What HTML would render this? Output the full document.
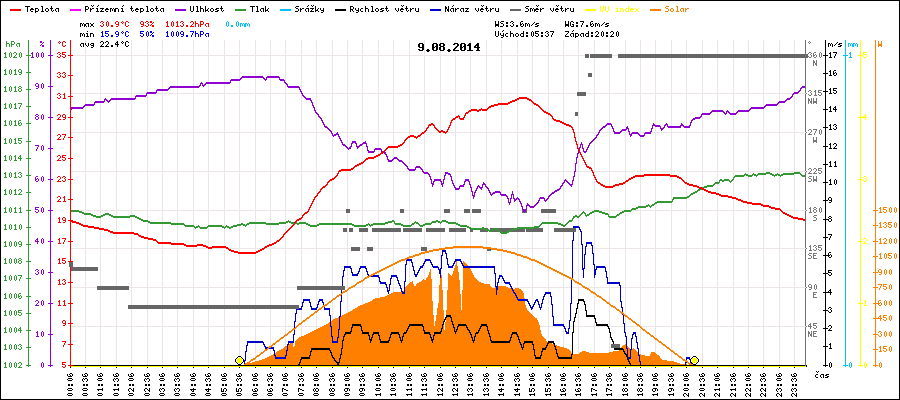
<!DOCTYPE html><html><head><meta charset="utf-8"><style>html,body{margin:0;padding:0;background:#fff;width:900px;height:400px;overflow:hidden}svg{display:block}text{font-family:"Liberation Mono",monospace;white-space:pre}.t{font-size:8px;fill-opacity:0;fill:transparent}</style></head><body>
<svg width="900" height="400" viewBox="0 0 900 400">
<rect x="0" y="0" width="900" height="400" fill="#fff"/>
<rect x="85" y="40" width="1" height="325" fill="#ebe5e5"/>
<rect x="100" y="40" width="1" height="325" fill="#ebe5e5"/>
<rect x="116" y="40" width="1" height="325" fill="#ebe5e5"/>
<rect x="131" y="40" width="1" height="325" fill="#ebe5e5"/>
<rect x="147" y="40" width="1" height="325" fill="#ebe5e5"/>
<rect x="162" y="40" width="1" height="325" fill="#ebe5e5"/>
<rect x="177" y="40" width="1" height="325" fill="#ebe5e5"/>
<rect x="193" y="40" width="1" height="325" fill="#ebe5e5"/>
<rect x="208" y="40" width="1" height="325" fill="#ebe5e5"/>
<rect x="224" y="40" width="1" height="325" fill="#ebe5e5"/>
<rect x="239" y="40" width="1" height="325" fill="#ebe5e5"/>
<rect x="255" y="40" width="1" height="325" fill="#ebe5e5"/>
<rect x="270" y="40" width="1" height="325" fill="#ebe5e5"/>
<rect x="285" y="40" width="1" height="325" fill="#ebe5e5"/>
<rect x="301" y="40" width="1" height="325" fill="#ebe5e5"/>
<rect x="316" y="40" width="1" height="325" fill="#ebe5e5"/>
<rect x="332" y="40" width="1" height="325" fill="#ebe5e5"/>
<rect x="347" y="40" width="1" height="325" fill="#ebe5e5"/>
<rect x="362" y="40" width="1" height="325" fill="#ebe5e5"/>
<rect x="378" y="40" width="1" height="325" fill="#ebe5e5"/>
<rect x="393" y="40" width="1" height="325" fill="#ebe5e5"/>
<rect x="409" y="40" width="1" height="325" fill="#ebe5e5"/>
<rect x="424" y="40" width="1" height="325" fill="#ebe5e5"/>
<rect x="440" y="40" width="1" height="325" fill="#ebe5e5"/>
<rect x="455" y="40" width="1" height="325" fill="#ebe5e5"/>
<rect x="470" y="40" width="1" height="325" fill="#ebe5e5"/>
<rect x="486" y="40" width="1" height="325" fill="#ebe5e5"/>
<rect x="501" y="40" width="1" height="325" fill="#ebe5e5"/>
<rect x="517" y="40" width="1" height="325" fill="#ebe5e5"/>
<rect x="532" y="40" width="1" height="325" fill="#ebe5e5"/>
<rect x="548" y="40" width="1" height="325" fill="#ebe5e5"/>
<rect x="563" y="40" width="1" height="325" fill="#ebe5e5"/>
<rect x="578" y="40" width="1" height="325" fill="#ebe5e5"/>
<rect x="594" y="40" width="1" height="325" fill="#ebe5e5"/>
<rect x="609" y="40" width="1" height="325" fill="#ebe5e5"/>
<rect x="625" y="40" width="1" height="325" fill="#ebe5e5"/>
<rect x="640" y="40" width="1" height="325" fill="#ebe5e5"/>
<rect x="655" y="40" width="1" height="325" fill="#ebe5e5"/>
<rect x="671" y="40" width="1" height="325" fill="#ebe5e5"/>
<rect x="686" y="40" width="1" height="325" fill="#ebe5e5"/>
<rect x="702" y="40" width="1" height="325" fill="#ebe5e5"/>
<rect x="717" y="40" width="1" height="325" fill="#ebe5e5"/>
<rect x="733" y="40" width="1" height="325" fill="#ebe5e5"/>
<rect x="748" y="40" width="1" height="325" fill="#ebe5e5"/>
<rect x="763" y="40" width="1" height="325" fill="#ebe5e5"/>
<rect x="779" y="40" width="1" height="325" fill="#ebe5e5"/>
<rect x="794" y="40" width="1" height="325" fill="#ebe5e5"/>
<rect x="71" y="55" width="734" height="1" fill="#ebe5e5"/>
<rect x="71" y="93" width="734" height="1" fill="#ebe5e5"/>
<rect x="71" y="132" width="734" height="1" fill="#ebe5e5"/>
<rect x="71" y="171" width="734" height="1" fill="#ebe5e5"/>
<rect x="71" y="210" width="734" height="1" fill="#ebe5e5"/>
<rect x="71" y="248" width="734" height="1" fill="#ebe5e5"/>
<rect x="71" y="287" width="734" height="1" fill="#ebe5e5"/>
<rect x="71" y="326" width="734" height="1" fill="#ebe5e5"/>
<polygon points="244.2,365.0 245.0,364.5 252.5,362.4 258.8,360.5 265.0,358.6 271.3,355.5 277.5,351.1 282.5,348.6 287.5,344.9 292.5,342.4 293.3,346.8 294.3,346.8 295.6,340.5 298.8,337.4 302.5,336.1 308.8,333.0 315.0,329.9 321.3,326.8 327.5,323.6 330.0,321.5 336.0,318.0 340.0,317.0 345.0,314.0 350.0,311.5 355.0,308.5 360.0,305.5 365.0,303.5 370.0,301.5 375.0,298.5 380.0,297.5 385.0,296.5 390.0,294.2 394.0,292.2 403.0,292.2 405.5,287.0 409.0,283.5 412.5,281.0 415.0,287.5 416.5,284.0 420.0,282.0 424.0,279.0 425.0,281.0 428.0,276.0 430.5,269.0 431.5,279.0 432.0,292.0 433.0,310.0 434.5,326.0 436.4,316.0 437.0,310.0 438.5,303.0 439.5,285.0 440.0,277.0 441.0,270.0 442.0,280.0 443.0,300.0 444.5,330.0 446.2,316.0 447.0,300.0 447.5,290.0 448.0,272.0 451.5,276.0 454.0,270.0 456.5,261.0 458.0,268.0 459.5,280.0 460.0,290.0 460.6,295.0 460.6,309.5 461.7,309.5 461.7,295.0 462.5,290.0 463.0,275.0 463.5,261.0 468.0,265.5 471.0,270.0 475.0,278.0 479.0,282.0 485.0,284.0 489.5,284.2 492.0,288.0 494.0,288.5 496.0,287.0 499.0,286.0 505.0,286.2 509.0,288.0 513.0,289.0 516.0,288.0 519.0,288.5 522.0,290.5 523.5,293.5 524.5,298.0 525.5,305.0 527.0,309.0 530.0,313.0 534.0,317.0 537.0,318.6 539.0,322.5 540.3,329.0 542.2,336.2 544.8,338.1 547.4,342.0 553.9,344.0 557.8,345.9 563.0,347.2 565.0,348.0 568.0,349.0 571.0,352.0 572.0,354.0 578.0,354.0 583.0,351.0 586.0,351.5 589.0,352.5 595.0,353.0 605.0,353.0 609.0,352.5 613.0,351.5 619.0,350.5 622.5,346.0 626.0,344.0 629.0,348.0 631.0,350.0 633.0,348.0 635.0,349.5 638.0,353.0 641.0,354.5 645.0,355.5 649.6,356.0 651.4,352.2 655.0,352.4 659.2,356.0 662.8,360.2 671.2,360.8 676.0,362.0 680.8,363.8 685.6,364.4 690.4,364.7 691.0,365.0 691.0,365.5 244.2,365.5" fill="#ff8000" shape-rendering="crispEdges"/>
<path d="M573 226h6v1h-6zM573 227h7v1h-7zM573 228h1v1h-1zM579 228h1v1h-1zM573 229h1v1h-1zM579 229h2v1h-2zM573 230h1v1h-1zM580 230h1v1h-1zM573 231h1v1h-1zM580 231h2v1h-2zM573 232h1v1h-1zM581 232h1v1h-1zM573 233h1v1h-1zM581 233h1v1h-1zM573 234h1v1h-1zM581 234h1v1h-1zM573 235h1v1h-1zM581 235h1v1h-1zM573 236h1v1h-1zM581 236h1v1h-1zM573 237h1v1h-1zM581 237h1v1h-1zM573 238h1v1h-1zM581 238h1v1h-1zM573 239h1v1h-1zM581 239h1v1h-1zM572 240h2v1h-2zM581 240h1v1h-1zM572 241h1v1h-1zM581 241h1v1h-1zM572 242h1v1h-1zM581 242h1v1h-1zM586 242h6v1h-6zM572 243h1v1h-1zM581 243h1v1h-1zM586 243h6v1h-6zM572 244h1v1h-1zM581 244h2v1h-2zM586 244h1v1h-1zM591 244h1v1h-1zM572 245h1v1h-1zM582 245h1v1h-1zM586 245h1v1h-1zM591 245h2v1h-2zM572 246h1v1h-1zM582 246h1v1h-1zM585 246h2v1h-2zM592 246h1v1h-1zM572 247h1v1h-1zM582 247h1v1h-1zM585 247h1v1h-1zM592 247h1v1h-1zM572 248h1v1h-1zM582 248h1v1h-1zM585 248h1v1h-1zM592 248h1v1h-1zM572 249h1v1h-1zM582 249h1v1h-1zM585 249h1v1h-1zM592 249h1v1h-1zM442 250h4v1h-4zM572 250h1v1h-1zM582 250h1v1h-1zM585 250h1v1h-1zM592 250h1v1h-1zM442 251h4v1h-4zM572 251h1v1h-1zM582 251h1v1h-1zM585 251h1v1h-1zM592 251h1v1h-1zM442 252h1v1h-1zM445 252h1v1h-1zM572 252h1v1h-1zM582 252h1v1h-1zM585 252h1v1h-1zM592 252h1v1h-1zM442 253h1v1h-1zM445 253h2v1h-2zM572 253h1v1h-1zM582 253h1v1h-1zM585 253h1v1h-1zM592 253h2v1h-2zM442 254h1v1h-1zM446 254h1v1h-1zM572 254h1v1h-1zM582 254h1v1h-1zM584 254h2v1h-2zM593 254h1v1h-1zM441 255h2v1h-2zM446 255h1v1h-1zM572 255h1v1h-1zM582 255h1v1h-1zM584 255h1v1h-1zM593 255h1v1h-1zM441 256h1v1h-1zM446 256h1v1h-1zM572 256h1v1h-1zM582 256h1v1h-1zM584 256h1v1h-1zM593 256h1v1h-1zM441 257h1v1h-1zM446 257h1v1h-1zM572 257h1v1h-1zM582 257h1v1h-1zM584 257h1v1h-1zM593 257h1v1h-1zM441 258h1v1h-1zM446 258h2v1h-2zM572 258h1v1h-1zM582 258h1v1h-1zM584 258h1v1h-1zM593 258h1v1h-1zM406 259h6v1h-6zM425 259h5v1h-5zM441 259h1v1h-1zM447 259h1v1h-1zM455 259h6v1h-6zM572 259h1v1h-1zM582 259h1v1h-1zM584 259h1v1h-1zM593 259h1v1h-1zM406 260h6v1h-6zM425 260h6v1h-6zM441 260h1v1h-1zM447 260h1v1h-1zM455 260h6v1h-6zM572 260h1v1h-1zM582 260h1v1h-1zM584 260h1v1h-1zM593 260h1v1h-1zM406 261h1v1h-1zM411 261h1v1h-1zM424 261h2v1h-2zM430 261h1v1h-1zM441 261h1v1h-1zM447 261h1v1h-1zM454 261h2v1h-2zM460 261h2v1h-2zM572 261h1v1h-1zM582 261h1v1h-1zM584 261h1v1h-1zM593 261h1v1h-1zM406 262h1v1h-1zM411 262h2v1h-2zM424 262h1v1h-1zM430 262h2v1h-2zM441 262h1v1h-1zM447 262h1v1h-1zM454 262h1v1h-1zM461 262h1v1h-1zM572 262h1v1h-1zM582 262h1v1h-1zM584 262h1v1h-1zM593 262h1v1h-1zM406 263h1v1h-1zM412 263h1v1h-1zM423 263h2v1h-2zM431 263h1v1h-1zM441 263h1v1h-1zM447 263h1v1h-1zM453 263h2v1h-2zM461 263h2v1h-2zM572 263h1v1h-1zM582 263h1v1h-1zM584 263h1v1h-1zM593 263h1v1h-1zM405 264h2v1h-2zM412 264h1v1h-1zM423 264h1v1h-1zM431 264h2v1h-2zM441 264h1v1h-1zM447 264h2v1h-2zM453 264h1v1h-1zM462 264h1v1h-1zM572 264h1v1h-1zM582 264h1v1h-1zM584 264h1v1h-1zM593 264h2v1h-2zM405 265h1v1h-1zM412 265h1v1h-1zM422 265h2v1h-2zM432 265h1v1h-1zM441 265h1v1h-1zM448 265h1v1h-1zM452 265h2v1h-2zM462 265h2v1h-2zM572 265h1v1h-1zM582 265h1v1h-1zM584 265h1v1h-1zM594 265h1v1h-1zM344 266h7v1h-7zM360 266h6v1h-6zM405 266h1v1h-1zM412 266h2v1h-2zM420 266h3v1h-3zM432 266h6v1h-6zM441 266h1v1h-1zM448 266h5v1h-5zM463 266h32v1h-32zM572 266h1v1h-1zM582 266h1v1h-1zM584 266h1v1h-1zM594 266h1v1h-1zM596 266h9v1h-9zM344 267h7v1h-7zM360 267h6v1h-6zM405 267h1v1h-1zM413 267h1v1h-1zM420 267h3v1h-3zM433 267h6v1h-6zM441 267h1v1h-1zM448 267h5v1h-5zM463 267h32v1h-32zM572 267h1v1h-1zM582 267h1v1h-1zM584 267h1v1h-1zM594 267h1v1h-1zM596 267h10v1h-10zM344 268h1v1h-1zM350 268h2v1h-2zM359 268h2v1h-2zM365 268h2v1h-2zM405 268h1v1h-1zM413 268h1v1h-1zM419 268h2v1h-2zM438 268h1v1h-1zM440 268h2v1h-2zM494 268h1v1h-1zM572 268h1v1h-1zM582 268h3v1h-3zM594 268h1v1h-1zM596 268h1v1h-1zM605 268h1v1h-1zM344 269h1v1h-1zM351 269h1v1h-1zM359 269h1v1h-1zM366 269h1v1h-1zM405 269h1v1h-1zM413 269h1v1h-1zM419 269h1v1h-1zM438 269h3v1h-3zM494 269h1v1h-1zM572 269h1v1h-1zM582 269h2v1h-2zM594 269h3v1h-3zM605 269h1v1h-1zM343 270h2v1h-2zM351 270h1v1h-1zM359 270h1v1h-1zM366 270h1v1h-1zM405 270h1v1h-1zM413 270h2v1h-2zM418 270h2v1h-2zM439 270h2v1h-2zM494 270h1v1h-1zM572 270h1v1h-1zM583 270h1v1h-1zM594 270h2v1h-2zM605 270h1v1h-1zM343 271h1v1h-1zM351 271h1v1h-1zM358 271h2v1h-2zM366 271h2v1h-2zM405 271h1v1h-1zM414 271h1v1h-1zM418 271h1v1h-1zM439 271h2v1h-2zM494 271h1v1h-1zM572 271h1v1h-1zM583 271h1v1h-1zM594 271h2v1h-2zM605 271h2v1h-2zM343 272h1v1h-1zM351 272h2v1h-2zM358 272h1v1h-1zM367 272h1v1h-1zM405 272h1v1h-1zM414 272h1v1h-1zM417 272h2v1h-2zM439 272h2v1h-2zM494 272h1v1h-1zM572 272h1v1h-1zM583 272h1v1h-1zM594 272h2v1h-2zM606 272h1v1h-1zM343 273h1v1h-1zM352 273h1v1h-1zM357 273h2v1h-2zM367 273h1v1h-1zM405 273h1v1h-1zM414 273h1v1h-1zM417 273h1v1h-1zM439 273h2v1h-2zM494 273h2v1h-2zM572 273h1v1h-1zM583 273h1v1h-1zM594 273h2v1h-2zM606 273h1v1h-1zM343 274h1v1h-1zM352 274h6v1h-6zM367 274h2v1h-2zM405 274h1v1h-1zM414 274h4v1h-4zM440 274h1v1h-1zM495 274h1v1h-1zM572 274h1v1h-1zM583 274h1v1h-1zM594 274h2v1h-2zM606 274h1v1h-1zM343 275h1v1h-1zM352 275h6v1h-6zM368 275h11v1h-11zM391 275h6v1h-6zM405 275h1v1h-1zM415 275h2v1h-2zM440 275h1v1h-1zM495 275h1v1h-1zM499 275h3v1h-3zM572 275h1v1h-1zM583 275h1v1h-1zM594 275h1v1h-1zM606 275h1v1h-1zM342 276h2v1h-2zM368 276h11v1h-11zM391 276h6v1h-6zM405 276h1v1h-1zM415 276h2v1h-2zM440 276h1v1h-1zM495 276h1v1h-1zM499 276h4v1h-4zM572 276h1v1h-1zM583 276h1v1h-1zM594 276h1v1h-1zM606 276h1v1h-1zM342 277h1v1h-1zM378 277h2v1h-2zM391 277h1v1h-1zM396 277h2v1h-2zM405 277h1v1h-1zM440 277h1v1h-1zM495 277h1v1h-1zM499 277h1v1h-1zM502 277h1v1h-1zM572 277h1v1h-1zM583 277h1v1h-1zM594 277h1v1h-1zM606 277h2v1h-2zM342 278h1v1h-1zM379 278h1v1h-1zM390 278h2v1h-2zM397 278h1v1h-1zM405 278h1v1h-1zM495 278h1v1h-1zM498 278h2v1h-2zM502 278h2v1h-2zM572 278h1v1h-1zM607 278h1v1h-1zM342 279h1v1h-1zM379 279h1v1h-1zM390 279h1v1h-1zM397 279h1v1h-1zM405 279h1v1h-1zM495 279h1v1h-1zM498 279h1v1h-1zM503 279h1v1h-1zM571 279h2v1h-2zM607 279h1v1h-1zM342 280h1v1h-1zM379 280h1v1h-1zM390 280h1v1h-1zM397 280h2v1h-2zM405 280h1v1h-1zM495 280h1v1h-1zM498 280h1v1h-1zM503 280h2v1h-2zM571 280h1v1h-1zM607 280h1v1h-1zM342 281h1v1h-1zM379 281h2v1h-2zM390 281h1v1h-1zM398 281h1v1h-1zM404 281h2v1h-2zM495 281h1v1h-1zM498 281h1v1h-1zM504 281h1v1h-1zM571 281h1v1h-1zM607 281h1v1h-1zM342 282h1v1h-1zM380 282h6v1h-6zM390 282h1v1h-1zM398 282h1v1h-1zM404 282h1v1h-1zM495 282h1v1h-1zM497 282h2v1h-2zM504 282h6v1h-6zM571 282h1v1h-1zM607 282h13v1h-13zM342 283h1v1h-1zM380 283h6v1h-6zM390 283h1v1h-1zM398 283h2v1h-2zM404 283h1v1h-1zM495 283h1v1h-1zM497 283h1v1h-1zM505 283h5v1h-5zM571 283h1v1h-1zM607 283h13v1h-13zM342 284h1v1h-1zM385 284h2v1h-2zM389 284h2v1h-2zM399 284h1v1h-1zM404 284h1v1h-1zM495 284h1v1h-1zM497 284h1v1h-1zM509 284h2v1h-2zM571 284h1v1h-1zM619 284h1v1h-1zM342 285h1v1h-1zM386 285h1v1h-1zM389 285h1v1h-1zM399 285h2v1h-2zM404 285h1v1h-1zM495 285h1v1h-1zM497 285h1v1h-1zM510 285h1v1h-1zM571 285h1v1h-1zM619 285h2v1h-2zM342 286h1v1h-1zM386 286h1v1h-1zM389 286h1v1h-1zM400 286h1v1h-1zM404 286h1v1h-1zM495 286h3v1h-3zM510 286h2v1h-2zM571 286h1v1h-1zM620 286h1v1h-1zM341 287h2v1h-2zM386 287h2v1h-2zM389 287h1v1h-1zM400 287h1v1h-1zM404 287h1v1h-1zM496 287h2v1h-2zM511 287h1v1h-1zM571 287h1v1h-1zM620 287h1v1h-1zM341 288h1v1h-1zM387 288h1v1h-1zM389 288h1v1h-1zM400 288h2v1h-2zM404 288h1v1h-1zM496 288h2v1h-2zM511 288h2v1h-2zM571 288h1v1h-1zM620 288h1v1h-1zM341 289h1v1h-1zM387 289h1v1h-1zM389 289h1v1h-1zM401 289h1v1h-1zM404 289h1v1h-1zM496 289h2v1h-2zM512 289h1v1h-1zM571 289h1v1h-1zM620 289h1v1h-1zM341 290h1v1h-1zM387 290h3v1h-3zM401 290h1v1h-1zM404 290h1v1h-1zM496 290h1v1h-1zM512 290h2v1h-2zM571 290h1v1h-1zM620 290h1v1h-1zM341 291h1v1h-1zM387 291h2v1h-2zM401 291h2v1h-2zM404 291h1v1h-1zM496 291h1v1h-1zM513 291h1v1h-1zM571 291h1v1h-1zM620 291h1v1h-1zM341 292h1v1h-1zM388 292h1v1h-1zM402 292h3v1h-3zM496 292h1v1h-1zM513 292h2v1h-2zM545 292h6v1h-6zM571 292h1v1h-1zM620 292h1v1h-1zM341 293h1v1h-1zM388 293h1v1h-1zM402 293h3v1h-3zM496 293h1v1h-1zM514 293h2v1h-2zM545 293h6v1h-6zM571 293h1v1h-1zM620 293h1v1h-1zM341 294h1v1h-1zM496 294h1v1h-1zM515 294h1v1h-1zM544 294h2v1h-2zM550 294h1v1h-1zM571 294h1v1h-1zM620 294h1v1h-1zM341 295h1v1h-1zM515 295h2v1h-2zM544 295h1v1h-1zM550 295h1v1h-1zM571 295h1v1h-1zM620 295h1v1h-1zM341 296h1v1h-1zM516 296h1v1h-1zM543 296h2v1h-2zM550 296h2v1h-2zM571 296h1v1h-1zM620 296h1v1h-1zM341 297h1v1h-1zM516 297h2v1h-2zM543 297h1v1h-1zM551 297h1v1h-1zM571 297h1v1h-1zM620 297h1v1h-1zM341 298h1v1h-1zM517 298h1v1h-1zM543 298h1v1h-1zM551 298h1v1h-1zM571 298h1v1h-1zM620 298h1v1h-1zM303 299h7v1h-7zM319 299h4v1h-4zM341 299h1v1h-1zM517 299h11v1h-11zM536 299h2v1h-2zM542 299h2v1h-2zM551 299h1v1h-1zM571 299h1v1h-1zM620 299h1v1h-1zM303 300h7v1h-7zM319 300h4v1h-4zM341 300h1v1h-1zM518 300h10v1h-10zM535 300h3v1h-3zM542 300h1v1h-1zM551 300h1v1h-1zM571 300h1v1h-1zM620 300h1v1h-1zM303 301h1v1h-1zM309 301h1v1h-1zM318 301h2v1h-2zM322 301h1v1h-1zM340 301h2v1h-2zM527 301h2v1h-2zM535 301h1v1h-1zM537 301h2v1h-2zM542 301h1v1h-1zM551 301h1v1h-1zM571 301h1v1h-1zM620 301h2v1h-2zM302 302h2v1h-2zM309 302h2v1h-2zM318 302h1v1h-1zM322 302h2v1h-2zM340 302h1v1h-1zM528 302h1v1h-1zM534 302h2v1h-2zM538 302h1v1h-1zM542 302h1v1h-1zM551 302h1v1h-1zM571 302h1v1h-1zM621 302h1v1h-1zM302 303h1v1h-1zM310 303h1v1h-1zM318 303h1v1h-1zM323 303h1v1h-1zM340 303h1v1h-1zM528 303h2v1h-2zM534 303h1v1h-1zM538 303h1v1h-1zM541 303h2v1h-2zM551 303h1v1h-1zM570 303h2v1h-2zM621 303h1v1h-1zM302 304h1v1h-1zM310 304h1v1h-1zM317 304h2v1h-2zM323 304h1v1h-1zM340 304h1v1h-1zM529 304h1v1h-1zM533 304h2v1h-2zM538 304h2v1h-2zM541 304h1v1h-1zM551 304h2v1h-2zM570 304h1v1h-1zM621 304h1v1h-1zM302 305h1v1h-1zM310 305h1v1h-1zM317 305h1v1h-1zM323 305h1v1h-1zM340 305h1v1h-1zM529 305h2v1h-2zM533 305h1v1h-1zM539 305h1v1h-1zM541 305h1v1h-1zM552 305h1v1h-1zM570 305h1v1h-1zM621 305h1v1h-1zM301 306h2v1h-2zM310 306h2v1h-2zM317 306h1v1h-1zM323 306h2v1h-2zM340 306h1v1h-1zM530 306h1v1h-1zM532 306h2v1h-2zM539 306h1v1h-1zM541 306h1v1h-1zM552 306h1v1h-1zM570 306h1v1h-1zM621 306h1v1h-1zM301 307h1v1h-1zM311 307h1v1h-1zM316 307h2v1h-2zM324 307h1v1h-1zM340 307h1v1h-1zM530 307h3v1h-3zM539 307h3v1h-3zM552 307h1v1h-1zM570 307h1v1h-1zM621 307h2v1h-2zM296 308h6v1h-6zM311 308h6v1h-6zM324 308h6v1h-6zM340 308h1v1h-1zM531 308h2v1h-2zM540 308h1v1h-1zM552 308h1v1h-1zM570 308h1v1h-1zM622 308h1v1h-1zM296 309h6v1h-6zM311 309h6v1h-6zM324 309h6v1h-6zM340 309h1v1h-1zM531 309h1v1h-1zM540 309h1v1h-1zM552 309h1v1h-1zM570 309h1v1h-1zM622 309h1v1h-1zM296 310h1v1h-1zM329 310h1v1h-1zM340 310h1v1h-1zM552 310h1v1h-1zM570 310h1v1h-1zM622 310h1v1h-1zM296 311h1v1h-1zM329 311h1v1h-1zM340 311h1v1h-1zM552 311h1v1h-1zM570 311h1v1h-1zM622 311h1v1h-1zM296 312h1v1h-1zM329 312h1v1h-1zM340 312h1v1h-1zM552 312h1v1h-1zM570 312h1v1h-1zM622 312h1v1h-1zM295 313h2v1h-2zM329 313h1v1h-1zM340 313h1v1h-1zM552 313h1v1h-1zM570 313h1v1h-1zM622 313h1v1h-1zM295 314h1v1h-1zM329 314h1v1h-1zM340 314h1v1h-1zM552 314h1v1h-1zM570 314h1v1h-1zM622 314h2v1h-2zM295 315h1v1h-1zM329 315h2v1h-2zM340 315h1v1h-1zM552 315h1v1h-1zM570 315h1v1h-1zM623 315h1v1h-1zM295 316h1v1h-1zM330 316h1v1h-1zM339 316h2v1h-2zM552 316h2v1h-2zM570 316h1v1h-1zM623 316h1v1h-1zM295 317h1v1h-1zM330 317h1v1h-1zM339 317h1v1h-1zM553 317h1v1h-1zM570 317h1v1h-1zM623 317h1v1h-1zM295 318h1v1h-1zM330 318h1v1h-1zM339 318h1v1h-1zM553 318h1v1h-1zM570 318h1v1h-1zM623 318h1v1h-1zM295 319h1v1h-1zM330 319h1v1h-1zM339 319h1v1h-1zM553 319h1v1h-1zM570 319h1v1h-1zM623 319h1v1h-1zM295 320h1v1h-1zM330 320h1v1h-1zM339 320h1v1h-1zM553 320h1v1h-1zM569 320h2v1h-2zM623 320h1v1h-1zM294 321h2v1h-2zM330 321h1v1h-1zM339 321h1v1h-1zM553 321h1v1h-1zM569 321h1v1h-1zM623 321h1v1h-1zM294 322h1v1h-1zM330 322h1v1h-1zM339 322h1v1h-1zM553 322h1v1h-1zM569 322h1v1h-1zM623 322h1v1h-1zM294 323h1v1h-1zM330 323h1v1h-1zM339 323h1v1h-1zM553 323h1v1h-1zM569 323h1v1h-1zM623 323h2v1h-2zM294 324h1v1h-1zM330 324h1v1h-1zM339 324h1v1h-1zM553 324h11v1h-11zM569 324h1v1h-1zM624 324h1v1h-1zM294 325h1v1h-1zM330 325h1v1h-1zM339 325h1v1h-1zM553 325h11v1h-11zM569 325h1v1h-1zM624 325h1v1h-1zM294 326h1v1h-1zM330 326h2v1h-2zM339 326h1v1h-1zM563 326h2v1h-2zM569 326h1v1h-1zM624 326h1v1h-1zM294 327h1v1h-1zM331 327h1v1h-1zM339 327h1v1h-1zM564 327h1v1h-1zM569 327h1v1h-1zM624 327h1v1h-1zM294 328h1v1h-1zM331 328h1v1h-1zM339 328h1v1h-1zM564 328h2v1h-2zM568 328h2v1h-2zM624 328h1v1h-1zM294 329h1v1h-1zM331 329h1v1h-1zM338 329h2v1h-2zM565 329h1v1h-1zM568 329h1v1h-1zM624 329h1v1h-1zM294 330h1v1h-1zM331 330h1v1h-1zM338 330h1v1h-1zM565 330h1v1h-1zM568 330h1v1h-1zM624 330h1v1h-1zM294 331h1v1h-1zM331 331h1v1h-1zM338 331h1v1h-1zM565 331h2v1h-2zM568 331h1v1h-1zM624 331h1v1h-1zM294 332h1v1h-1zM331 332h1v1h-1zM338 332h1v1h-1zM566 332h3v1h-3zM624 332h2v1h-2zM633 332h3v1h-3zM294 333h1v1h-1zM331 333h1v1h-1zM338 333h1v1h-1zM566 333h3v1h-3zM625 333h1v1h-1zM633 333h3v1h-3zM293 334h2v1h-2zM331 334h1v1h-1zM338 334h1v1h-1zM625 334h1v1h-1zM632 334h2v1h-2zM635 334h1v1h-1zM293 335h1v1h-1zM331 335h1v1h-1zM338 335h1v1h-1zM625 335h1v1h-1zM632 335h1v1h-1zM635 335h1v1h-1zM293 336h1v1h-1zM331 336h2v1h-2zM338 336h1v1h-1zM625 336h2v1h-2zM632 336h1v1h-1zM635 336h2v1h-2zM293 337h1v1h-1zM332 337h1v1h-1zM337 337h2v1h-2zM626 337h1v1h-1zM632 337h1v1h-1zM636 337h1v1h-1zM293 338h1v1h-1zM332 338h1v1h-1zM337 338h1v1h-1zM626 338h1v1h-1zM631 338h2v1h-2zM636 338h1v1h-1zM293 339h1v1h-1zM332 339h1v1h-1zM337 339h1v1h-1zM626 339h1v1h-1zM631 339h1v1h-1zM636 339h1v1h-1zM293 340h1v1h-1zM332 340h1v1h-1zM337 340h1v1h-1zM626 340h1v1h-1zM631 340h1v1h-1zM636 340h1v1h-1zM247 341h16v1h-16zM288 341h6v1h-6zM332 341h6v1h-6zM626 341h1v1h-1zM631 341h1v1h-1zM636 341h1v1h-1zM247 342h17v1h-17zM288 342h6v1h-6zM332 342h6v1h-6zM626 342h1v1h-1zM631 342h1v1h-1zM636 342h2v1h-2zM247 343h1v1h-1zM263 343h1v1h-1zM288 343h1v1h-1zM626 343h1v1h-1zM631 343h1v1h-1zM637 343h1v1h-1zM247 344h1v1h-1zM263 344h2v1h-2zM287 344h2v1h-2zM626 344h1v1h-1zM631 344h1v1h-1zM637 344h1v1h-1zM246 345h2v1h-2zM264 345h1v1h-1zM287 345h1v1h-1zM626 345h1v1h-1zM631 345h1v1h-1zM637 345h1v1h-1zM246 346h1v1h-1zM264 346h2v1h-2zM287 346h1v1h-1zM626 346h1v1h-1zM631 346h1v1h-1zM637 346h1v1h-1zM246 347h1v1h-1zM265 347h9v1h-9zM287 347h1v1h-1zM626 347h1v1h-1zM631 347h1v1h-1zM637 347h1v1h-1zM246 348h1v1h-1zM265 348h9v1h-9zM287 348h1v1h-1zM626 348h2v1h-2zM631 348h1v1h-1zM637 348h2v1h-2zM246 349h1v1h-1zM273 349h1v1h-1zM287 349h1v1h-1zM627 349h1v1h-1zM630 349h2v1h-2zM638 349h1v1h-1zM246 350h1v1h-1zM273 350h2v1h-2zM286 350h2v1h-2zM627 350h1v1h-1zM630 350h1v1h-1zM638 350h1v1h-1zM245 351h2v1h-2zM274 351h1v1h-1zM286 351h1v1h-1zM627 351h1v1h-1zM630 351h1v1h-1zM638 351h1v1h-1zM245 352h1v1h-1zM274 352h1v1h-1zM286 352h1v1h-1zM627 352h1v1h-1zM630 352h1v1h-1zM638 352h1v1h-1zM245 353h1v1h-1zM274 353h1v1h-1zM286 353h1v1h-1zM627 353h1v1h-1zM630 353h1v1h-1zM638 353h1v1h-1zM245 354h1v1h-1zM274 354h1v1h-1zM286 354h1v1h-1zM627 354h1v1h-1zM630 354h1v1h-1zM638 354h1v1h-1zM245 355h1v1h-1zM274 355h2v1h-2zM285 355h2v1h-2zM627 355h1v1h-1zM630 355h1v1h-1zM638 355h2v1h-2zM245 356h1v1h-1zM275 356h1v1h-1zM285 356h1v1h-1zM627 356h1v1h-1zM630 356h1v1h-1zM639 356h1v1h-1zM245 357h1v1h-1zM275 357h11v1h-11zM627 357h4v1h-4zM639 357h1v1h-1zM686 357h4v1h-4zM245 358h1v1h-1zM275 358h11v1h-11zM627 358h4v1h-4zM639 358h1v1h-1zM686 358h4v1h-4zM245 359h1v1h-1zM639 359h1v1h-1zM686 359h1v1h-1zM689 359h2v1h-2zM244 360h2v1h-2zM639 360h1v1h-1zM686 360h1v1h-1zM690 360h1v1h-1zM244 361h1v1h-1zM639 361h2v1h-2zM686 361h1v1h-1zM690 361h1v1h-1zM244 362h1v1h-1zM640 362h1v1h-1zM685 362h2v1h-2zM690 362h1v1h-1zM244 363h1v1h-1zM640 363h1v1h-1zM685 363h1v1h-1zM690 363h2v1h-2zM244 364h1v1h-1zM640 364h1v1h-1zM685 364h1v1h-1zM691 364h1v1h-1zM70 365h175v1h-175zM640 365h46v1h-46zM691 365h116v1h-116zM70 366h175v1h-175zM641 366h45v1h-45zM691 366h116v1h-116z" fill="#0000cc" />
<path d="M578 299h6v1h-6zM578 300h6v1h-6zM578 301h1v1h-1zM583 301h2v1h-2zM578 302h1v1h-1zM584 302h1v1h-1zM577 303h2v1h-2zM584 303h1v1h-1zM577 304h1v1h-1zM584 304h2v1h-2zM577 305h1v1h-1zM585 305h1v1h-1zM577 306h1v1h-1zM585 306h1v1h-1zM577 307h1v1h-1zM585 307h1v1h-1zM576 308h2v1h-2zM585 308h1v1h-1zM576 309h1v1h-1zM585 309h1v1h-1zM576 310h1v1h-1zM585 310h2v1h-2zM576 311h1v1h-1zM586 311h1v1h-1zM576 312h1v1h-1zM586 312h1v1h-1zM575 313h2v1h-2zM586 313h1v1h-1zM575 314h1v1h-1zM586 314h1v1h-1zM446 315h5v1h-5zM575 315h1v1h-1zM586 315h9v1h-9zM446 316h5v1h-5zM575 316h1v1h-1zM586 316h9v1h-9zM445 317h2v1h-2zM450 317h2v1h-2zM574 317h2v1h-2zM594 317h1v1h-1zM445 318h1v1h-1zM451 318h1v1h-1zM574 318h1v1h-1zM594 318h2v1h-2zM444 319h2v1h-2zM451 319h1v1h-1zM574 319h1v1h-1zM595 319h1v1h-1zM444 320h1v1h-1zM451 320h1v1h-1zM574 320h1v1h-1zM595 320h1v1h-1zM443 321h2v1h-2zM451 321h2v1h-2zM573 321h2v1h-2zM595 321h1v1h-1zM443 322h1v1h-1zM452 322h1v1h-1zM573 322h1v1h-1zM595 322h2v1h-2zM443 323h1v1h-1zM452 323h1v1h-1zM573 323h1v1h-1zM596 323h1v1h-1zM352 324h9v1h-9zM409 324h14v1h-14zM442 324h2v1h-2zM452 324h2v1h-2zM458 324h8v1h-8zM481 324h6v1h-6zM573 324h1v1h-1zM596 324h12v1h-12zM352 325h9v1h-9zM409 325h14v1h-14zM442 325h1v1h-1zM453 325h1v1h-1zM458 325h9v1h-9zM481 325h6v1h-6zM573 325h1v1h-1zM596 325h12v1h-12zM352 326h1v1h-1zM360 326h2v1h-2zM408 326h2v1h-2zM422 326h2v1h-2zM442 326h1v1h-1zM453 326h1v1h-1zM457 326h2v1h-2zM466 326h1v1h-1zM480 326h2v1h-2zM486 326h2v1h-2zM573 326h1v1h-1zM607 326h2v1h-2zM351 327h2v1h-2zM361 327h1v1h-1zM408 327h1v1h-1zM423 327h1v1h-1zM442 327h1v1h-1zM453 327h2v1h-2zM457 327h1v1h-1zM466 327h2v1h-2zM480 327h1v1h-1zM487 327h1v1h-1zM573 327h1v1h-1zM608 327h1v1h-1zM351 328h1v1h-1zM361 328h1v1h-1zM407 328h2v1h-2zM423 328h1v1h-1zM441 328h2v1h-2zM454 328h1v1h-1zM457 328h1v1h-1zM467 328h1v1h-1zM479 328h2v1h-2zM487 328h1v1h-1zM573 328h1v1h-1zM608 328h2v1h-2zM351 329h1v1h-1zM361 329h1v1h-1zM407 329h1v1h-1zM423 329h1v1h-1zM441 329h1v1h-1zM454 329h1v1h-1zM456 329h2v1h-2zM467 329h2v1h-2zM479 329h1v1h-1zM487 329h1v1h-1zM573 329h1v1h-1zM609 329h1v1h-1zM351 330h1v1h-1zM361 330h2v1h-2zM406 330h2v1h-2zM423 330h2v1h-2zM441 330h1v1h-1zM454 330h1v1h-1zM456 330h1v1h-1zM468 330h2v1h-2zM478 330h2v1h-2zM487 330h2v1h-2zM573 330h1v1h-1zM609 330h1v1h-1zM350 331h2v1h-2zM362 331h1v1h-1zM406 331h1v1h-1zM424 331h1v1h-1zM440 331h2v1h-2zM454 331h3v1h-3zM469 331h1v1h-1zM478 331h1v1h-1zM488 331h1v1h-1zM573 331h1v1h-1zM609 331h1v1h-1zM345 332h6v1h-6zM362 332h7v1h-7zM373 332h6v1h-6zM391 332h8v1h-8zM404 332h3v1h-3zM424 332h6v1h-6zM434 332h7v1h-7zM455 332h1v1h-1zM469 332h2v1h-2zM476 332h3v1h-3zM488 332h1v1h-1zM512 332h5v1h-5zM572 332h2v1h-2zM609 332h2v1h-2zM345 333h6v1h-6zM362 333h7v1h-7zM373 333h6v1h-6zM391 333h8v1h-8zM403 333h3v1h-3zM424 333h6v1h-6zM434 333h7v1h-7zM455 333h1v1h-1zM470 333h1v1h-1zM475 333h3v1h-3zM488 333h2v1h-2zM512 333h5v1h-5zM572 333h1v1h-1zM610 333h1v1h-1zM344 334h2v1h-2zM368 334h1v1h-1zM372 334h2v1h-2zM378 334h1v1h-1zM390 334h2v1h-2zM398 334h2v1h-2zM403 334h1v1h-1zM429 334h2v1h-2zM434 334h1v1h-1zM470 334h2v1h-2zM475 334h1v1h-1zM489 334h1v1h-1zM511 334h2v1h-2zM516 334h2v1h-2zM572 334h1v1h-1zM610 334h1v1h-1zM344 335h1v1h-1zM368 335h2v1h-2zM372 335h1v1h-1zM378 335h2v1h-2zM390 335h1v1h-1zM399 335h1v1h-1zM403 335h1v1h-1zM430 335h1v1h-1zM433 335h2v1h-2zM471 335h1v1h-1zM475 335h1v1h-1zM489 335h1v1h-1zM511 335h1v1h-1zM517 335h1v1h-1zM572 335h1v1h-1zM610 335h1v1h-1zM343 336h2v1h-2zM369 336h1v1h-1zM372 336h1v1h-1zM379 336h1v1h-1zM390 336h1v1h-1zM399 336h1v1h-1zM402 336h2v1h-2zM430 336h1v1h-1zM433 336h1v1h-1zM471 336h1v1h-1zM474 336h2v1h-2zM489 336h2v1h-2zM511 336h1v1h-1zM517 336h2v1h-2zM572 336h1v1h-1zM610 336h1v1h-1zM343 337h1v1h-1zM369 337h1v1h-1zM371 337h2v1h-2zM379 337h1v1h-1zM389 337h2v1h-2zM399 337h2v1h-2zM402 337h1v1h-1zM430 337h2v1h-2zM433 337h1v1h-1zM471 337h2v1h-2zM474 337h1v1h-1zM490 337h1v1h-1zM510 337h2v1h-2zM518 337h1v1h-1zM572 337h1v1h-1zM610 337h2v1h-2zM343 338h1v1h-1zM369 338h1v1h-1zM371 338h1v1h-1zM379 338h1v1h-1zM389 338h1v1h-1zM400 338h1v1h-1zM402 338h1v1h-1zM431 338h1v1h-1zM433 338h1v1h-1zM472 338h1v1h-1zM474 338h1v1h-1zM490 338h1v1h-1zM510 338h1v1h-1zM518 338h1v1h-1zM572 338h1v1h-1zM611 338h1v1h-1zM343 339h1v1h-1zM369 339h3v1h-3zM379 339h2v1h-2zM389 339h1v1h-1zM400 339h1v1h-1zM402 339h1v1h-1zM431 339h3v1h-3zM472 339h1v1h-1zM474 339h1v1h-1zM490 339h1v1h-1zM510 339h1v1h-1zM518 339h2v1h-2zM572 339h1v1h-1zM611 339h2v1h-2zM342 340h2v1h-2zM370 340h2v1h-2zM380 340h1v1h-1zM388 340h2v1h-2zM400 340h3v1h-3zM431 340h2v1h-2zM472 340h3v1h-3zM490 340h2v1h-2zM509 340h2v1h-2zM519 340h1v1h-1zM572 340h1v1h-1zM612 340h1v1h-1zM342 341h1v1h-1zM370 341h1v1h-1zM380 341h9v1h-9zM401 341h1v1h-1zM432 341h1v1h-1zM473 341h1v1h-1zM491 341h19v1h-19zM519 341h1v1h-1zM524 341h9v1h-9zM548 341h6v1h-6zM572 341h1v1h-1zM612 341h2v1h-2zM342 342h1v1h-1zM370 342h1v1h-1zM380 342h9v1h-9zM401 342h1v1h-1zM432 342h1v1h-1zM473 342h1v1h-1zM491 342h19v1h-19zM519 342h2v1h-2zM524 342h9v1h-9zM548 342h6v1h-6zM572 342h1v1h-1zM613 342h1v1h-1zM342 343h1v1h-1zM520 343h1v1h-1zM523 343h2v1h-2zM532 343h1v1h-1zM547 343h2v1h-2zM553 343h2v1h-2zM572 343h1v1h-1zM613 343h1v1h-1zM342 344h1v1h-1zM520 344h2v1h-2zM523 344h1v1h-1zM532 344h2v1h-2zM547 344h1v1h-1zM554 344h1v1h-1zM572 344h1v1h-1zM613 344h1v1h-1zM342 345h1v1h-1zM521 345h1v1h-1zM523 345h1v1h-1zM533 345h1v1h-1zM546 345h2v1h-2zM554 345h1v1h-1zM572 345h1v1h-1zM613 345h2v1h-2zM342 346h1v1h-1zM521 346h1v1h-1zM523 346h1v1h-1zM533 346h1v1h-1zM546 346h1v1h-1zM554 346h2v1h-2zM572 346h1v1h-1zM614 346h1v1h-1zM342 347h1v1h-1zM521 347h3v1h-3zM533 347h1v1h-1zM545 347h2v1h-2zM555 347h1v1h-1zM572 347h1v1h-1zM614 347h1v1h-1zM311 348h19v1h-19zM341 348h2v1h-2zM522 348h1v1h-1zM533 348h1v1h-1zM542 348h4v1h-4zM555 348h1v1h-1zM572 348h1v1h-1zM614 348h9v1h-9zM311 349h19v1h-19zM341 349h1v1h-1zM522 349h1v1h-1zM533 349h2v1h-2zM542 349h4v1h-4zM555 349h2v1h-2zM572 349h1v1h-1zM614 349h10v1h-10zM311 350h1v1h-1zM329 350h2v1h-2zM341 350h1v1h-1zM534 350h1v1h-1zM542 350h1v1h-1zM556 350h1v1h-1zM572 350h1v1h-1zM623 350h1v1h-1zM310 351h2v1h-2zM330 351h1v1h-1zM341 351h1v1h-1zM534 351h1v1h-1zM541 351h2v1h-2zM556 351h1v1h-1zM572 351h1v1h-1zM623 351h2v1h-2zM310 352h1v1h-1zM330 352h2v1h-2zM341 352h1v1h-1zM534 352h1v1h-1zM541 352h1v1h-1zM556 352h1v1h-1zM572 352h1v1h-1zM624 352h1v1h-1zM310 353h1v1h-1zM331 353h1v1h-1zM341 353h1v1h-1zM534 353h1v1h-1zM541 353h1v1h-1zM556 353h2v1h-2zM572 353h1v1h-1zM624 353h2v1h-2zM310 354h1v1h-1zM331 354h1v1h-1zM340 354h2v1h-2zM534 354h1v1h-1zM541 354h1v1h-1zM557 354h1v1h-1zM571 354h2v1h-2zM625 354h2v1h-2zM309 355h2v1h-2zM331 355h2v1h-2zM340 355h1v1h-1zM534 355h2v1h-2zM540 355h2v1h-2zM557 355h1v1h-1zM571 355h1v1h-1zM626 355h1v1h-1zM309 356h1v1h-1zM332 356h1v1h-1zM340 356h1v1h-1zM535 356h1v1h-1zM540 356h1v1h-1zM557 356h2v1h-2zM571 356h1v1h-1zM626 356h2v1h-2zM301 357h9v1h-9zM332 357h2v1h-2zM340 357h1v1h-1zM535 357h6v1h-6zM558 357h14v1h-14zM627 357h1v1h-1zM301 358h9v1h-9zM333 358h2v1h-2zM339 358h2v1h-2zM535 358h6v1h-6zM558 358h14v1h-14zM627 358h1v1h-1zM300 359h2v1h-2zM334 359h1v1h-1zM339 359h1v1h-1zM627 359h2v1h-2zM300 360h1v1h-1zM334 360h2v1h-2zM339 360h1v1h-1zM628 360h1v1h-1zM300 361h1v1h-1zM335 361h2v1h-2zM339 361h1v1h-1zM628 361h2v1h-2zM299 362h2v1h-2zM336 362h4v1h-4zM629 362h1v1h-1zM299 363h1v1h-1zM337 363h2v1h-2zM629 363h2v1h-2zM298 364h2v1h-2zM337 364h2v1h-2zM630 364h1v1h-1zM70 365h229v1h-229zM338 365h1v1h-1zM630 365h177v1h-177zM70 366h229v1h-229zM630 366h177v1h-177z" fill="#000000" />
<rect x="71" y="267" width="27" height="4" fill="#666666"/>
<rect x="97" y="286" width="32" height="4" fill="#666666"/>
<rect x="128" y="305" width="171" height="4" fill="#666666"/>
<rect x="297" y="286" width="48" height="4" fill="#666666"/>
<rect x="346" y="209" width="4" height="4" fill="#666666"/>
<rect x="343" y="228" width="4" height="4" fill="#666666"/>
<rect x="349" y="228" width="4" height="4" fill="#666666"/>
<rect x="359" y="228" width="9" height="4" fill="#666666"/>
<rect x="372" y="228" width="29" height="4" fill="#666666"/>
<rect x="403" y="228" width="19" height="4" fill="#666666"/>
<rect x="426" y="228" width="19" height="4" fill="#666666"/>
<rect x="449" y="228" width="17" height="4" fill="#666666"/>
<rect x="470" y="228" width="3" height="4" fill="#666666"/>
<rect x="480" y="228" width="8" height="4" fill="#666666"/>
<rect x="490" y="228" width="35" height="4" fill="#666666"/>
<rect x="526" y="228" width="17" height="4" fill="#666666"/>
<rect x="554" y="228" width="22" height="4" fill="#666666"/>
<rect x="351" y="247" width="9" height="4" fill="#666666"/>
<rect x="367" y="247" width="6" height="4" fill="#666666"/>
<rect x="421" y="247" width="6" height="4" fill="#666666"/>
<rect x="487" y="247" width="4" height="4" fill="#666666"/>
<rect x="400" y="209" width="4" height="4" fill="#666666"/>
<rect x="444" y="209" width="6" height="4" fill="#666666"/>
<rect x="464" y="209" width="6" height="4" fill="#666666"/>
<rect x="472" y="209" width="9" height="4" fill="#666666"/>
<rect x="522" y="209" width="5" height="4" fill="#666666"/>
<rect x="541" y="209" width="15" height="4" fill="#666666"/>
<rect x="575" y="112" width="3" height="4" fill="#666666"/>
<rect x="577" y="92" width="9" height="4" fill="#666666"/>
<rect x="588" y="73" width="4" height="4" fill="#666666"/>
<rect x="585" y="54" width="4" height="4" fill="#666666"/>
<rect x="590" y="54" width="22" height="4" fill="#666666"/>
<rect x="618" y="54" width="190" height="4" fill="#666666"/>
<rect x="611" y="344" width="9" height="4" fill="#666666"/>
<path d="M453 246h30v1h-30zM445 247h46v1h-46zM439 248h14v1h-14zM483 248h14v1h-14zM433 249h12v1h-12zM491 249h12v1h-12zM429 250h10v1h-10zM497 250h10v1h-10zM425 251h8v1h-8zM503 251h8v1h-8zM421 252h8v1h-8zM507 252h8v1h-8zM419 253h6v1h-6zM511 253h6v1h-6zM415 254h6v1h-6zM515 254h6v1h-6zM413 255h6v1h-6zM517 255h6v1h-6zM409 256h6v1h-6zM521 256h6v1h-6zM407 257h6v1h-6zM523 257h6v1h-6zM405 258h4v1h-4zM527 258h4v1h-4zM401 259h6v1h-6zM529 259h6v1h-6zM399 260h6v1h-6zM531 260h6v1h-6zM397 261h4v1h-4zM535 261h4v1h-4zM395 262h4v1h-4zM537 262h4v1h-4zM393 263h4v1h-4zM539 263h4v1h-4zM391 264h4v1h-4zM541 264h4v1h-4zM389 265h4v1h-4zM543 265h4v1h-4zM387 266h4v1h-4zM545 266h4v1h-4zM385 267h4v1h-4zM547 267h4v1h-4zM383 268h4v1h-4zM549 268h4v1h-4zM381 269h4v1h-4zM551 269h4v1h-4zM379 270h4v1h-4zM553 270h4v1h-4zM377 271h4v1h-4zM555 271h4v1h-4zM375 272h4v1h-4zM557 272h4v1h-4zM373 273h4v1h-4zM559 273h4v1h-4zM371 274h4v1h-4zM561 274h4v1h-4zM369 275h4v1h-4zM563 275h4v1h-4zM367 276h4v1h-4zM565 276h4v1h-4zM365 277h4v1h-4zM567 277h4v1h-4zM364 278h3v1h-3zM569 278h4v1h-4zM363 279h2v1h-2zM571 279h3v1h-3zM361 280h3v1h-3zM573 280h2v1h-2zM359 281h4v1h-4zM574 281h3v1h-3zM357 282h4v1h-4zM575 282h4v1h-4zM356 283h3v1h-3zM577 283h4v1h-4zM355 284h2v1h-2zM579 284h3v1h-3zM353 285h3v1h-3zM581 285h2v1h-2zM351 286h4v1h-4zM582 286h3v1h-3zM349 287h4v1h-4zM583 287h4v1h-4zM348 288h3v1h-3zM585 288h4v1h-4zM347 289h2v1h-2zM587 289h3v1h-3zM345 290h3v1h-3zM589 290h2v1h-2zM343 291h4v1h-4zM590 291h3v1h-3zM342 292h3v1h-3zM591 292h4v1h-4zM341 293h2v1h-2zM593 293h3v1h-3zM339 294h3v1h-3zM595 294h2v1h-2zM337 295h4v1h-4zM596 295h3v1h-3zM336 296h3v1h-3zM597 296h4v1h-4zM335 297h2v1h-2zM599 297h3v1h-3zM333 298h3v1h-3zM601 298h2v1h-2zM332 299h3v1h-3zM602 299h3v1h-3zM331 300h2v1h-2zM603 300h3v1h-3zM329 301h3v1h-3zM605 301h2v1h-2zM328 302h3v1h-3zM606 302h3v1h-3zM327 303h2v1h-2zM607 303h3v1h-3zM325 304h3v1h-3zM609 304h2v1h-2zM323 305h4v1h-4zM610 305h3v1h-3zM322 306h3v1h-3zM611 306h4v1h-4zM321 307h2v1h-2zM613 307h3v1h-3zM319 308h3v1h-3zM615 308h2v1h-2zM318 309h3v1h-3zM616 309h3v1h-3zM317 310h2v1h-2zM617 310h3v1h-3zM315 311h3v1h-3zM619 311h2v1h-2zM314 312h3v1h-3zM620 312h3v1h-3zM313 313h2v1h-2zM621 313h3v1h-3zM311 314h3v1h-3zM623 314h2v1h-2zM310 315h3v1h-3zM624 315h3v1h-3zM309 316h2v1h-2zM625 316h3v1h-3zM307 317h3v1h-3zM627 317h2v1h-2zM306 318h3v1h-3zM628 318h3v1h-3zM305 319h2v1h-2zM629 319h3v1h-3zM303 320h3v1h-3zM631 320h2v1h-2zM302 321h3v1h-3zM632 321h3v1h-3zM301 322h2v1h-2zM633 322h3v1h-3zM299 323h3v1h-3zM635 323h2v1h-2zM298 324h3v1h-3zM636 324h3v1h-3zM297 325h2v1h-2zM637 325h3v1h-3zM296 326h2v1h-2zM639 326h2v1h-2zM295 327h2v1h-2zM640 327h2v1h-2zM293 328h3v1h-3zM641 328h2v1h-2zM292 329h3v1h-3zM642 329h3v1h-3zM291 330h2v1h-2zM643 330h3v1h-3zM289 331h3v1h-3zM645 331h2v1h-2zM288 332h3v1h-3zM646 332h3v1h-3zM287 333h2v1h-2zM647 333h3v1h-3zM285 334h3v1h-3zM649 334h2v1h-2zM284 335h3v1h-3zM650 335h3v1h-3zM283 336h2v1h-2zM651 336h3v1h-3zM281 337h3v1h-3zM653 337h2v1h-2zM280 338h3v1h-3zM654 338h3v1h-3zM279 339h2v1h-2zM655 339h3v1h-3zM277 340h3v1h-3zM657 340h2v1h-2zM276 341h3v1h-3zM658 341h3v1h-3zM275 342h2v1h-2zM659 342h3v1h-3zM273 343h3v1h-3zM661 343h2v1h-2zM272 344h3v1h-3zM662 344h3v1h-3zM271 345h2v1h-2zM663 345h3v1h-3zM269 346h3v1h-3zM665 346h2v1h-2zM268 347h3v1h-3zM666 347h3v1h-3zM267 348h2v1h-2zM667 348h3v1h-3zM265 349h3v1h-3zM669 349h2v1h-2zM264 350h3v1h-3zM670 350h3v1h-3zM263 351h2v1h-2zM671 351h3v1h-3zM261 352h3v1h-3zM673 352h2v1h-2zM260 353h3v1h-3zM674 353h3v1h-3zM259 354h2v1h-2zM675 354h3v1h-3zM257 355h3v1h-3zM677 355h2v1h-2zM256 356h3v1h-3zM678 356h3v1h-3zM255 357h2v1h-2zM679 357h3v1h-3zM253 358h3v1h-3zM681 358h2v1h-2zM251 359h4v1h-4zM682 359h3v1h-3zM250 360h3v1h-3zM683 360h4v1h-4zM249 361h2v1h-2zM685 361h3v1h-3zM247 362h3v1h-3zM687 362h2v1h-2zM245 363h4v1h-4zM688 363h3v1h-3zM244 364h3v1h-3zM689 364h4v1h-4zM244 365h1v1h-1zM691 365h2v1h-2z" fill="#ff8000" />
<path d="M766 172h4v1h-4zM794 172h6v1h-6zM745 173h1v1h-1zM753 173h1v1h-1zM758 173h14v1h-14zM777 173h1v1h-1zM783 173h18v1h-18zM744 174h4v1h-4zM752 174h4v1h-4zM757 174h9v1h-9zM770 174h4v1h-4zM775 174h5v1h-5zM781 174h13v1h-13zM800 174h2v1h-2zM735 175h10v1h-10zM746 175h7v1h-7zM754 175h4v1h-4zM772 175h5v1h-5zM778 175h5v1h-5zM801 175h5v1h-5zM734 176h10v1h-10zM748 176h4v1h-4zM756 176h1v1h-1zM774 176h1v1h-1zM780 176h1v1h-1zM802 176h4v1h-4zM733 177h2v1h-2zM733 178h1v1h-1zM720 179h2v1h-2zM724 179h5v1h-5zM732 179h2v1h-2zM719 180h11v1h-11zM731 180h2v1h-2zM719 181h1v1h-1zM722 181h2v1h-2zM729 181h3v1h-3zM715 182h5v1h-5zM730 182h1v1h-1zM714 183h5v1h-5zM713 184h2v1h-2zM707 185h7v1h-7zM704 186h9v1h-9zM702 187h5v1h-5zM700 188h4v1h-4zM698 189h4v1h-4zM697 190h3v1h-3zM695 191h3v1h-3zM693 192h4v1h-4zM691 193h4v1h-4zM690 194h3v1h-3zM689 195h2v1h-2zM687 196h3v1h-3zM673 197h16v1h-16zM673 198h14v1h-14zM672 199h2v1h-2zM672 200h1v1h-1zM657 201h16v1h-16zM655 202h17v1h-17zM654 203h3v1h-3zM648 204h1v1h-1zM652 204h3v1h-3zM646 205h4v1h-4zM651 205h3v1h-3zM638 206h10v1h-10zM649 206h3v1h-3zM636 207h10v1h-10zM650 207h1v1h-1zM632 208h6v1h-6zM631 209h5v1h-5zM70 210h9v1h-9zM594 210h5v1h-5zM624 210h8v1h-8zM70 211h12v1h-12zM583 211h1v1h-1zM592 211h10v1h-10zM622 211h9v1h-9zM79 212h5v1h-5zM582 212h3v1h-3zM590 212h4v1h-4zM599 212h6v1h-6zM620 212h4v1h-4zM82 213h9v1h-9zM105 213h4v1h-4zM581 213h2v1h-2zM584 213h2v1h-2zM589 213h3v1h-3zM602 213h6v1h-6zM619 213h3v1h-3zM84 214h9v1h-9zM103 214h8v1h-8zM580 214h2v1h-2zM585 214h1v1h-1zM587 214h3v1h-3zM605 214h4v1h-4zM617 214h3v1h-3zM91 215h5v1h-5zM101 215h4v1h-4zM109 215h4v1h-4zM130 215h5v1h-5zM575 215h2v1h-2zM579 215h2v1h-2zM585 215h4v1h-4zM608 215h1v1h-1zM616 215h3v1h-3zM93 216h10v1h-10zM111 216h26v1h-26zM573 216h7v1h-7zM586 216h1v1h-1zM608 216h9v1h-9zM96 217h5v1h-5zM113 217h17v1h-17zM135 217h4v1h-4zM573 217h2v1h-2zM577 217h2v1h-2zM609 217h7v1h-7zM137 218h4v1h-4zM572 218h2v1h-2zM139 219h4v1h-4zM572 219h1v1h-1zM141 220h7v1h-7zM288 220h1v1h-1zM392 220h2v1h-2zM436 220h2v1h-2zM442 220h4v1h-4zM569 220h4v1h-4zM143 221h7v1h-7zM286 221h5v1h-5zM388 221h7v1h-7zM415 221h1v1h-1zM432 221h8v1h-8zM441 221h7v1h-7zM568 221h4v1h-4zM148 222h23v1h-23zM249 222h17v1h-17zM279 222h9v1h-9zM289 222h8v1h-8zM299 222h7v1h-7zM385 222h7v1h-7zM394 222h1v1h-1zM414 222h4v1h-4zM431 222h5v1h-5zM438 222h4v1h-4zM446 222h10v1h-10zM542 222h16v1h-16zM567 222h2v1h-2zM150 223h34v1h-34zM241 223h2v1h-2zM247 223h39v1h-39zM291 223h17v1h-17zM319 223h33v1h-33zM368 223h1v1h-1zM373 223h15v1h-15zM394 223h7v1h-7zM412 223h3v1h-3zM416 223h3v1h-3zM425 223h7v1h-7zM440 223h1v1h-1zM448 223h10v1h-10zM541 223h20v1h-20zM566 223h2v1h-2zM171 224h14v1h-14zM237 224h8v1h-8zM246 224h3v1h-3zM266 224h13v1h-13zM297 224h2v1h-2zM306 224h4v1h-4zM317 224h37v1h-37zM366 224h4v1h-4zM371 224h14v1h-14zM395 224h8v1h-8zM411 224h3v1h-3zM418 224h2v1h-2zM423 224h8v1h-8zM456 224h4v1h-4zM540 224h2v1h-2zM558 224h5v1h-5zM565 224h2v1h-2zM184 225h10v1h-10zM198 225h1v1h-1zM208 225h14v1h-14zM226 225h1v1h-1zM233 225h8v1h-8zM243 225h4v1h-4zM308 225h11v1h-11zM352 225h16v1h-16zM369 225h4v1h-4zM401 225h11v1h-11zM419 225h6v1h-6zM458 225h9v1h-9zM539 225h2v1h-2zM561 225h5v1h-5zM185 226h10v1h-10zM196 226h4v1h-4zM207 226h17v1h-17zM225 226h4v1h-4zM231 226h6v1h-6zM245 226h1v1h-1zM310 226h7v1h-7zM354 226h12v1h-12zM370 226h1v1h-1zM403 226h8v1h-8zM420 226h3v1h-3zM460 226h9v1h-9zM534 226h6v1h-6zM563 226h2v1h-2zM194 227h4v1h-4zM199 227h9v1h-9zM222 227h4v1h-4zM227 227h6v1h-6zM467 227h4v1h-4zM482 227h2v1h-2zM517 227h22v1h-22zM195 228h1v1h-1zM200 228h7v1h-7zM224 228h1v1h-1zM229 228h2v1h-2zM469 228h17v1h-17zM494 228h3v1h-3zM513 228h21v1h-21zM471 229h11v1h-11zM484 229h5v1h-5zM492 229h7v1h-7zM511 229h6v1h-6zM486 230h8v1h-8zM497 230h3v1h-3zM509 230h4v1h-4zM489 231h3v1h-3zM499 231h2v1h-2zM507 231h4v1h-4zM500 232h9v1h-9zM501 233h6v1h-6z" fill="#339933" />
<path d="M242 76h21v1h-21zM267 76h12v1h-12zM241 77h23v1h-23zM266 77h14v1h-14zM240 78h2v1h-2zM263 78h2v1h-2zM266 78h1v1h-1zM279 78h1v1h-1zM231 79h10v1h-10zM264 79h3v1h-3zM279 79h5v1h-5zM230 80h10v1h-10zM265 80h1v1h-1zM280 80h5v1h-5zM230 81h1v1h-1zM284 81h1v1h-1zM201 82h1v1h-1zM206 82h25v1h-25zM284 82h2v1h-2zM200 83h3v1h-3zM205 83h25v1h-25zM285 83h2v1h-2zM200 84h1v1h-1zM202 84h1v1h-1zM204 84h2v1h-2zM286 84h2v1h-2zM199 85h2v1h-2zM202 85h3v1h-3zM287 85h1v1h-1zM170 86h30v1h-30zM203 86h1v1h-1zM287 86h12v1h-12zM802 86h4v1h-4zM169 87h30v1h-30zM288 87h12v1h-12zM801 87h5v1h-5zM168 88h2v1h-2zM299 88h1v1h-1zM800 88h2v1h-2zM157 89h12v1h-12zM299 89h2v1h-2zM800 89h1v1h-1zM156 90h12v1h-12zM300 90h1v1h-1zM799 90h2v1h-2zM156 91h1v1h-1zM300 91h2v1h-2zM798 91h2v1h-2zM147 92h10v1h-10zM301 92h1v1h-1zM794 92h5v1h-5zM146 93h10v1h-10zM301 93h2v1h-2zM793 93h5v1h-5zM146 94h1v1h-1zM302 94h1v1h-1zM792 94h2v1h-2zM136 95h11v1h-11zM302 95h2v1h-2zM792 95h1v1h-1zM135 96h11v1h-11zM303 96h2v1h-2zM791 96h2v1h-2zM135 97h1v1h-1zM304 97h2v1h-2zM790 97h2v1h-2zM105 98h1v1h-1zM111 98h25v1h-25zM305 98h6v1h-6zM787 98h4v1h-4zM104 99h3v1h-3zM110 99h25v1h-25zM306 99h5v1h-5zM786 99h4v1h-4zM104 100h1v1h-1zM106 100h2v1h-2zM109 100h2v1h-2zM310 100h2v1h-2zM785 100h2v1h-2zM95 101h10v1h-10zM107 101h3v1h-3zM311 101h1v1h-1zM779 101h7v1h-7zM94 102h10v1h-10zM108 102h1v1h-1zM311 102h2v1h-2zM778 102h7v1h-7zM94 103h1v1h-1zM312 103h1v1h-1zM777 103h2v1h-2zM85 104h10v1h-10zM312 104h1v1h-1zM766 104h12v1h-12zM84 105h10v1h-10zM312 105h2v1h-2zM765 105h12v1h-12zM83 106h2v1h-2zM313 106h1v1h-1zM764 106h2v1h-2zM71 107h13v1h-13zM313 107h2v1h-2zM751 107h14v1h-14zM71 108h12v1h-12zM314 108h1v1h-1zM750 108h14v1h-14zM70 109h2v1h-2zM314 109h1v1h-1zM749 109h2v1h-2zM70 110h1v1h-1zM314 110h2v1h-2zM712 110h11v1h-11zM727 110h1v1h-1zM738 110h12v1h-12zM70 111h1v1h-1zM315 111h1v1h-1zM711 111h13v1h-13zM726 111h3v1h-3zM737 111h12v1h-12zM315 112h2v1h-2zM710 112h2v1h-2zM723 112h2v1h-2zM726 112h1v1h-1zM728 112h2v1h-2zM736 112h2v1h-2zM316 113h2v1h-2zM702 113h9v1h-9zM724 113h3v1h-3zM729 113h8v1h-8zM317 114h2v1h-2zM701 114h9v1h-9zM725 114h1v1h-1zM730 114h6v1h-6zM318 115h1v1h-1zM701 115h1v1h-1zM318 116h2v1h-2zM700 116h2v1h-2zM319 117h2v1h-2zM695 117h6v1h-6zM320 118h2v1h-2zM693 118h7v1h-7zM321 119h1v1h-1zM692 119h3v1h-3zM321 120h2v1h-2zM691 120h2v1h-2zM322 121h1v1h-1zM691 121h1v1h-1zM322 122h2v1h-2zM690 122h2v1h-2zM323 123h1v1h-1zM607 123h4v1h-4zM653 123h1v1h-1zM666 123h1v1h-1zM681 123h1v1h-1zM690 123h1v1h-1zM323 124h2v1h-2zM606 124h6v1h-6zM653 124h2v1h-2zM665 124h3v1h-3zM681 124h2v1h-2zM690 124h1v1h-1zM324 125h1v1h-1zM605 125h2v1h-2zM611 125h1v1h-1zM652 125h8v1h-8zM664 125h2v1h-2zM667 125h1v1h-1zM680 125h4v1h-4zM689 125h2v1h-2zM324 126h3v1h-3zM603 126h3v1h-3zM611 126h2v1h-2zM627 126h1v1h-1zM652 126h1v1h-1zM655 126h6v1h-6zM664 126h1v1h-1zM667 126h14v1h-14zM683 126h7v1h-7zM325 127h3v1h-3zM602 127h3v1h-3zM612 127h1v1h-1zM626 127h2v1h-2zM652 127h1v1h-1zM660 127h1v1h-1zM663 127h2v1h-2zM668 127h13v1h-13zM684 127h6v1h-6zM327 128h2v1h-2zM601 128h2v1h-2zM612 128h2v1h-2zM626 128h3v1h-3zM651 128h2v1h-2zM660 128h4v1h-4zM328 129h2v1h-2zM600 129h2v1h-2zM613 129h1v1h-1zM622 129h5v1h-5zM628 129h1v1h-1zM651 129h1v1h-1zM661 129h2v1h-2zM329 130h2v1h-2zM599 130h2v1h-2zM613 130h1v1h-1zM621 130h5v1h-5zM628 130h1v1h-1zM651 130h1v1h-1zM661 130h1v1h-1zM330 131h2v1h-2zM599 131h1v1h-1zM613 131h2v1h-2zM620 131h2v1h-2zM628 131h2v1h-2zM650 131h2v1h-2zM331 132h1v1h-1zM337 132h1v1h-1zM598 132h2v1h-2zM614 132h7v1h-7zM629 132h1v1h-1zM632 132h6v1h-6zM645 132h6v1h-6zM331 133h2v1h-2zM336 133h2v1h-2zM598 133h1v1h-1zM614 133h6v1h-6zM629 133h1v1h-1zM631 133h8v1h-8zM644 133h7v1h-7zM332 134h1v1h-1zM334 134h5v1h-5zM597 134h2v1h-2zM629 134h3v1h-3zM638 134h2v1h-2zM644 134h1v1h-1zM332 135h4v1h-4zM338 135h1v1h-1zM596 135h2v1h-2zM630 135h2v1h-2zM639 135h6v1h-6zM333 136h1v1h-1zM338 136h2v1h-2zM596 136h1v1h-1zM630 136h1v1h-1zM640 136h4v1h-4zM339 137h1v1h-1zM595 137h2v1h-2zM339 138h2v1h-2zM594 138h2v1h-2zM340 139h1v1h-1zM593 139h2v1h-2zM340 140h2v1h-2zM592 140h2v1h-2zM341 141h1v1h-1zM352 141h4v1h-4zM365 141h1v1h-1zM591 141h2v1h-2zM341 142h2v1h-2zM352 142h4v1h-4zM363 142h3v1h-3zM581 142h1v1h-1zM590 142h2v1h-2zM342 143h1v1h-1zM351 143h2v1h-2zM355 143h2v1h-2zM362 143h5v1h-5zM581 143h1v1h-1zM589 143h2v1h-2zM342 144h3v1h-3zM351 144h1v1h-1zM356 144h1v1h-1zM360 144h3v1h-3zM366 144h1v1h-1zM580 144h3v1h-3zM589 144h1v1h-1zM343 145h3v1h-3zM351 145h1v1h-1zM356 145h1v1h-1zM359 145h3v1h-3zM366 145h1v1h-1zM580 145h1v1h-1zM582 145h1v1h-1zM588 145h2v1h-2zM345 146h2v1h-2zM350 146h2v1h-2zM356 146h4v1h-4zM366 146h2v1h-2zM580 146h1v1h-1zM582 146h1v1h-1zM588 146h1v1h-1zM346 147h2v1h-2zM349 147h2v1h-2zM357 147h2v1h-2zM367 147h1v1h-1zM579 147h2v1h-2zM582 147h1v1h-1zM587 147h2v1h-2zM347 148h4v1h-4zM357 148h1v1h-1zM367 148h1v1h-1zM375 148h6v1h-6zM579 148h1v1h-1zM582 148h2v1h-2zM587 148h1v1h-1zM348 149h1v1h-1zM367 149h1v1h-1zM374 149h8v1h-8zM578 149h2v1h-2zM583 149h1v1h-1zM586 149h2v1h-2zM367 150h2v1h-2zM374 150h1v1h-1zM381 150h1v1h-1zM578 150h1v1h-1zM583 150h1v1h-1zM586 150h1v1h-1zM368 151h7v1h-7zM381 151h3v1h-3zM578 151h1v1h-1zM583 151h4v1h-4zM368 152h6v1h-6zM382 152h4v1h-4zM578 152h1v1h-1zM584 152h2v1h-2zM384 153h2v1h-2zM577 153h2v1h-2zM385 154h2v1h-2zM577 154h1v1h-1zM386 155h1v1h-1zM577 155h1v1h-1zM386 156h2v1h-2zM577 156h1v1h-1zM387 157h1v1h-1zM394 157h3v1h-3zM576 157h2v1h-2zM387 158h1v1h-1zM393 158h5v1h-5zM576 158h1v1h-1zM387 159h2v1h-2zM392 159h2v1h-2zM397 159h2v1h-2zM576 159h1v1h-1zM388 160h5v1h-5zM398 160h4v1h-4zM576 160h1v1h-1zM388 161h4v1h-4zM399 161h4v1h-4zM576 161h1v1h-1zM402 162h2v1h-2zM576 162h1v1h-1zM403 163h2v1h-2zM575 163h2v1h-2zM404 164h2v1h-2zM575 164h1v1h-1zM405 165h2v1h-2zM575 165h1v1h-1zM406 166h2v1h-2zM416 166h4v1h-4zM575 166h1v1h-1zM407 167h1v1h-1zM415 167h6v1h-6zM575 167h1v1h-1zM407 168h2v1h-2zM415 168h1v1h-1zM420 168h2v1h-2zM575 168h1v1h-1zM408 169h8v1h-8zM421 169h2v1h-2zM575 169h1v1h-1zM409 170h6v1h-6zM422 170h1v1h-1zM575 170h1v1h-1zM422 171h2v1h-2zM574 171h2v1h-2zM423 172h5v1h-5zM445 172h3v1h-3zM574 172h1v1h-1zM424 173h5v1h-5zM445 173h5v1h-5zM574 173h1v1h-1zM428 174h2v1h-2zM445 174h1v1h-1zM448 174h3v1h-3zM574 174h1v1h-1zM429 175h1v1h-1zM444 175h2v1h-2zM450 175h1v1h-1zM574 175h1v1h-1zM429 176h2v1h-2zM444 176h1v1h-1zM450 176h2v1h-2zM573 176h2v1h-2zM430 177h1v1h-1zM444 177h1v1h-1zM451 177h1v1h-1zM573 177h1v1h-1zM430 178h1v1h-1zM444 178h1v1h-1zM451 178h1v1h-1zM573 178h1v1h-1zM430 179h2v1h-2zM434 179h7v1h-7zM443 179h2v1h-2zM451 179h1v1h-1zM465 179h4v1h-4zM565 179h1v1h-1zM573 179h1v1h-1zM431 180h1v1h-1zM434 180h7v1h-7zM443 180h1v1h-1zM451 180h2v1h-2zM465 180h4v1h-4zM564 180h3v1h-3zM572 180h2v1h-2zM431 181h1v1h-1zM433 181h2v1h-2zM440 181h2v1h-2zM443 181h1v1h-1zM452 181h1v1h-1zM464 181h2v1h-2zM468 181h2v1h-2zM564 181h1v1h-1zM566 181h2v1h-2zM572 181h1v1h-1zM431 182h1v1h-1zM433 182h1v1h-1zM441 182h1v1h-1zM443 182h1v1h-1zM452 182h1v1h-1zM464 182h1v1h-1zM469 182h1v1h-1zM483 182h1v1h-1zM563 182h2v1h-2zM567 182h2v1h-2zM572 182h1v1h-1zM431 183h3v1h-3zM441 183h3v1h-3zM452 183h2v1h-2zM464 183h1v1h-1zM469 183h1v1h-1zM483 183h2v1h-2zM562 183h2v1h-2zM568 183h2v1h-2zM572 183h1v1h-1zM432 184h2v1h-2zM441 184h2v1h-2zM453 184h1v1h-1zM463 184h2v1h-2zM469 184h2v1h-2zM482 184h4v1h-4zM562 184h1v1h-1zM569 184h4v1h-4zM432 185h1v1h-1zM442 185h1v1h-1zM453 185h2v1h-2zM460 185h4v1h-4zM470 185h1v1h-1zM478 185h1v1h-1zM482 185h1v1h-1zM485 185h1v1h-1zM561 185h2v1h-2zM570 185h2v1h-2zM432 186h1v1h-1zM442 186h1v1h-1zM454 186h1v1h-1zM459 186h5v1h-5zM470 186h1v1h-1zM477 186h3v1h-3zM482 186h1v1h-1zM485 186h2v1h-2zM560 186h2v1h-2zM571 186h1v1h-1zM454 187h2v1h-2zM459 187h1v1h-1zM470 187h2v1h-2zM477 187h1v1h-1zM479 187h4v1h-4zM486 187h2v1h-2zM560 187h1v1h-1zM455 188h5v1h-5zM471 188h1v1h-1zM476 188h2v1h-2zM480 188h2v1h-2zM487 188h2v1h-2zM559 188h2v1h-2zM455 189h4v1h-4zM471 189h1v1h-1zM476 189h1v1h-1zM481 189h1v1h-1zM488 189h1v1h-1zM557 189h3v1h-3zM471 190h1v1h-1zM475 190h2v1h-2zM488 190h2v1h-2zM555 190h4v1h-4zM471 191h2v1h-2zM475 191h1v1h-1zM489 191h1v1h-1zM495 191h5v1h-5zM512 191h1v1h-1zM554 191h3v1h-3zM472 192h1v1h-1zM474 192h2v1h-2zM489 192h2v1h-2zM493 192h8v1h-8zM512 192h1v1h-1zM552 192h3v1h-3zM472 193h1v1h-1zM474 193h1v1h-1zM490 193h1v1h-1zM492 193h3v1h-3zM500 193h1v1h-1zM512 193h1v1h-1zM551 193h3v1h-3zM472 194h1v1h-1zM474 194h1v1h-1zM490 194h3v1h-3zM500 194h6v1h-6zM511 194h3v1h-3zM550 194h2v1h-2zM472 195h3v1h-3zM491 195h1v1h-1zM501 195h6v1h-6zM511 195h1v1h-1zM513 195h1v1h-1zM549 195h2v1h-2zM473 196h2v1h-2zM506 196h2v1h-2zM511 196h1v1h-1zM513 196h1v1h-1zM548 196h2v1h-2zM473 197h1v1h-1zM507 197h1v1h-1zM511 197h1v1h-1zM513 197h1v1h-1zM517 197h1v1h-1zM540 197h4v1h-4zM548 197h1v1h-1zM473 198h1v1h-1zM507 198h2v1h-2zM510 198h2v1h-2zM513 198h2v1h-2zM516 198h3v1h-3zM539 198h6v1h-6zM547 198h2v1h-2zM508 199h1v1h-1zM510 199h1v1h-1zM514 199h3v1h-3zM518 199h2v1h-2zM539 199h1v1h-1zM544 199h1v1h-1zM546 199h2v1h-2zM508 200h1v1h-1zM510 200h1v1h-1zM514 200h2v1h-2zM519 200h1v1h-1zM538 200h2v1h-2zM544 200h3v1h-3zM508 201h1v1h-1zM510 201h1v1h-1zM514 201h1v1h-1zM519 201h2v1h-2zM538 201h1v1h-1zM545 201h1v1h-1zM508 202h3v1h-3zM520 202h1v1h-1zM537 202h2v1h-2zM509 203h1v1h-1zM520 203h2v1h-2zM527 203h1v1h-1zM536 203h2v1h-2zM509 204h1v1h-1zM521 204h1v1h-1zM527 204h2v1h-2zM535 204h2v1h-2zM521 205h1v1h-1zM526 205h4v1h-4zM534 205h2v1h-2zM521 206h2v1h-2zM526 206h1v1h-1zM529 206h6v1h-6zM522 207h1v1h-1zM526 207h1v1h-1zM530 207h4v1h-4zM522 208h1v1h-1zM526 208h1v1h-1zM522 209h2v1h-2zM525 209h2v1h-2zM523 210h3v1h-3zM523 211h3v1h-3z" fill="#9000d0" />
<path d="M519 97h8v1h-8zM517 98h12v1h-12zM515 99h4v1h-4zM527 99h4v1h-4zM512 100h5v1h-5zM529 100h3v1h-3zM510 101h5v1h-5zM531 101h2v1h-2zM508 102h4v1h-4zM532 102h2v1h-2zM498 103h12v1h-12zM533 103h3v1h-3zM494 104h14v1h-14zM534 104h4v1h-4zM491 105h7v1h-7zM536 105h3v1h-3zM489 106h5v1h-5zM538 106h2v1h-2zM488 107h3v1h-3zM539 107h2v1h-2zM481 108h1v1h-1zM487 108h2v1h-2zM540 108h2v1h-2zM471 109h6v1h-6zM479 109h9v1h-9zM541 109h2v1h-2zM469 110h12v1h-12zM482 110h5v1h-5zM542 110h2v1h-2zM468 111h3v1h-3zM477 111h2v1h-2zM543 111h3v1h-3zM466 112h3v1h-3zM544 112h4v1h-4zM465 113h3v1h-3zM546 113h4v1h-4zM465 114h1v1h-1zM548 114h3v1h-3zM458 115h1v1h-1zM464 115h2v1h-2zM550 115h2v1h-2zM456 116h4v1h-4zM464 116h1v1h-1zM551 116h2v1h-2zM455 117h3v1h-3zM459 117h1v1h-1zM463 117h2v1h-2zM552 117h1v1h-1zM453 118h3v1h-3zM459 118h5v1h-5zM552 118h2v1h-2zM452 119h3v1h-3zM460 119h4v1h-4zM553 119h3v1h-3zM451 120h2v1h-2zM554 120h6v1h-6zM451 121h1v1h-1zM556 121h6v1h-6zM450 122h2v1h-2zM560 122h4v1h-4zM431 123h2v1h-2zM450 123h1v1h-1zM562 123h4v1h-4zM429 124h5v1h-5zM450 124h1v1h-1zM564 124h5v1h-5zM428 125h3v1h-3zM433 125h2v1h-2zM449 125h2v1h-2zM566 125h5v1h-5zM428 126h1v1h-1zM434 126h1v1h-1zM449 126h1v1h-1zM569 126h3v1h-3zM427 127h2v1h-2zM434 127h2v1h-2zM448 127h2v1h-2zM571 127h2v1h-2zM426 128h2v1h-2zM435 128h2v1h-2zM448 128h1v1h-1zM572 128h1v1h-1zM426 129h1v1h-1zM436 129h2v1h-2zM447 129h2v1h-2zM572 129h2v1h-2zM425 130h2v1h-2zM437 130h2v1h-2zM441 130h2v1h-2zM447 130h1v1h-1zM573 130h1v1h-1zM424 131h2v1h-2zM438 131h7v1h-7zM446 131h2v1h-2zM573 131h1v1h-1zM422 132h3v1h-3zM439 132h2v1h-2zM443 132h4v1h-4zM573 132h2v1h-2zM421 133h3v1h-3zM445 133h1v1h-1zM574 133h1v1h-1zM420 134h2v1h-2zM574 134h1v1h-1zM410 135h4v1h-4zM418 135h3v1h-3zM574 135h1v1h-1zM408 136h8v1h-8zM417 136h3v1h-3zM574 136h1v1h-1zM407 137h3v1h-3zM414 137h4v1h-4zM574 137h2v1h-2zM406 138h2v1h-2zM416 138h1v1h-1zM575 138h1v1h-1zM405 139h2v1h-2zM575 139h1v1h-1zM404 140h2v1h-2zM575 140h1v1h-1zM404 141h1v1h-1zM575 141h2v1h-2zM403 142h2v1h-2zM576 142h1v1h-1zM402 143h2v1h-2zM576 143h1v1h-1zM400 144h3v1h-3zM576 144h2v1h-2zM398 145h4v1h-4zM577 145h1v1h-1zM388 146h12v1h-12zM577 146h1v1h-1zM387 147h11v1h-11zM577 147h1v1h-1zM386 148h2v1h-2zM577 148h2v1h-2zM385 149h2v1h-2zM578 149h1v1h-1zM384 150h2v1h-2zM578 150h2v1h-2zM383 151h2v1h-2zM579 151h1v1h-1zM381 152h3v1h-3zM579 152h2v1h-2zM380 153h3v1h-3zM580 153h1v1h-1zM378 154h3v1h-3zM580 154h2v1h-2zM376 155h4v1h-4zM581 155h1v1h-1zM374 156h4v1h-4zM581 156h2v1h-2zM368 157h8v1h-8zM582 157h1v1h-1zM366 158h8v1h-8zM582 158h2v1h-2zM365 159h3v1h-3zM583 159h1v1h-1zM364 160h2v1h-2zM583 160h2v1h-2zM363 161h2v1h-2zM584 161h1v1h-1zM361 162h3v1h-3zM584 162h2v1h-2zM359 163h4v1h-4zM585 163h1v1h-1zM357 164h4v1h-4zM585 164h2v1h-2zM355 165h4v1h-4zM586 165h1v1h-1zM354 166h3v1h-3zM586 166h3v1h-3zM353 167h2v1h-2zM587 167h4v1h-4zM351 168h3v1h-3zM589 168h3v1h-3zM341 169h12v1h-12zM591 169h1v1h-1zM339 170h12v1h-12zM591 170h2v1h-2zM338 171h3v1h-3zM592 171h1v1h-1zM338 172h1v1h-1zM592 172h2v1h-2zM337 173h2v1h-2zM593 173h1v1h-1zM337 174h1v1h-1zM593 174h1v1h-1zM644 174h26v1h-26zM336 175h2v1h-2zM593 175h2v1h-2zM635 175h42v1h-42zM335 176h2v1h-2zM594 176h1v1h-1zM633 176h11v1h-11zM670 176h9v1h-9zM334 177h2v1h-2zM594 177h2v1h-2zM631 177h4v1h-4zM677 177h4v1h-4zM332 178h3v1h-3zM595 178h1v1h-1zM629 178h4v1h-4zM679 178h3v1h-3zM330 179h4v1h-4zM595 179h2v1h-2zM628 179h3v1h-3zM681 179h2v1h-2zM329 180h3v1h-3zM596 180h1v1h-1zM626 180h3v1h-3zM682 180h2v1h-2zM328 181h2v1h-2zM596 181h2v1h-2zM625 181h3v1h-3zM683 181h2v1h-2zM327 182h2v1h-2zM597 182h3v1h-3zM623 182h3v1h-3zM684 182h3v1h-3zM327 183h1v1h-1zM598 183h3v1h-3zM619 183h6v1h-6zM685 183h4v1h-4zM326 184h2v1h-2zM600 184h3v1h-3zM615 184h8v1h-8zM687 184h6v1h-6zM325 185h2v1h-2zM601 185h4v1h-4zM613 185h6v1h-6zM689 185h8v1h-8zM323 186h3v1h-3zM603 186h12v1h-12zM693 186h6v1h-6zM322 187h3v1h-3zM605 187h8v1h-8zM697 187h5v1h-5zM321 188h2v1h-2zM699 188h5v1h-5zM320 189h2v1h-2zM702 189h4v1h-4zM320 190h1v1h-1zM704 190h4v1h-4zM319 191h2v1h-2zM706 191h5v1h-5zM318 192h2v1h-2zM708 192h8v1h-8zM317 193h2v1h-2zM711 193h8v1h-8zM317 194h1v1h-1zM716 194h5v1h-5zM316 195h2v1h-2zM719 195h9v1h-9zM315 196h2v1h-2zM721 196h11v1h-11zM314 197h2v1h-2zM728 197h8v1h-8zM314 198h1v1h-1zM732 198h6v1h-6zM313 199h2v1h-2zM736 199h5v1h-5zM313 200h1v1h-1zM738 200h5v1h-5zM312 201h2v1h-2zM741 201h6v1h-6zM312 202h1v1h-1zM743 202h9v1h-9zM311 203h2v1h-2zM747 203h14v1h-14zM311 204h1v1h-1zM752 204h11v1h-11zM310 205h2v1h-2zM761 205h8v1h-8zM310 206h1v1h-1zM763 206h8v1h-8zM309 207h2v1h-2zM769 207h6v1h-6zM309 208h1v1h-1zM771 208h9v1h-9zM308 209h2v1h-2zM775 209h6v1h-6zM308 210h1v1h-1zM780 210h2v1h-2zM307 211h2v1h-2zM781 211h2v1h-2zM305 212h3v1h-3zM782 212h3v1h-3zM304 213h3v1h-3zM783 213h4v1h-4zM303 214h2v1h-2zM785 214h4v1h-4zM302 215h2v1h-2zM787 215h4v1h-4zM302 216h1v1h-1zM789 216h4v1h-4zM301 217h2v1h-2zM791 217h7v1h-7zM299 218h3v1h-3zM793 218h10v1h-10zM297 219h4v1h-4zM798 219h8v1h-8zM70 220h2v1h-2zM296 220h3v1h-3zM803 220h3v1h-3zM70 221h6v1h-6zM295 221h2v1h-2zM72 222h7v1h-7zM294 222h2v1h-2zM76 223h5v1h-5zM294 223h1v1h-1zM79 224h4v1h-4zM293 224h2v1h-2zM81 225h7v1h-7zM292 225h2v1h-2zM83 226h11v1h-11zM291 226h2v1h-2zM88 227h11v1h-11zM290 227h2v1h-2zM94 228h10v1h-10zM289 228h2v1h-2zM99 229h9v1h-9zM288 229h2v1h-2zM104 230h6v1h-6zM287 230h2v1h-2zM108 231h5v1h-5zM286 231h2v1h-2zM110 232h24v1h-24zM285 232h2v1h-2zM113 233h25v1h-25zM284 233h2v1h-2zM134 234h5v1h-5zM283 234h2v1h-2zM138 235h3v1h-3zM283 235h1v1h-1zM139 236h5v1h-5zM282 236h2v1h-2zM141 237h7v1h-7zM281 237h2v1h-2zM144 238h9v1h-9zM280 238h2v1h-2zM148 239h8v1h-8zM279 239h2v1h-2zM153 240h4v1h-4zM277 240h3v1h-3zM156 241h2v1h-2zM276 241h3v1h-3zM157 242h14v1h-14zM274 242h3v1h-3zM158 243h26v1h-26zM272 243h4v1h-4zM171 244h15v1h-15zM197 244h6v1h-6zM269 244h5v1h-5zM184 245h22v1h-22zM267 245h5v1h-5zM186 246h11v1h-11zM203 246h5v1h-5zM212 246h14v1h-14zM265 246h4v1h-4zM206 247h22v1h-22zM264 247h3v1h-3zM208 248h4v1h-4zM226 248h3v1h-3zM262 248h3v1h-3zM228 249h3v1h-3zM260 249h4v1h-4zM229 250h5v1h-5zM258 250h4v1h-4zM231 251h7v1h-7zM256 251h4v1h-4zM234 252h24v1h-24zM238 253h18v1h-18z" fill="#ff0000" />
<path d="M237 358h5v1h-5zM237 359h5v1h-5zM237 360h5v1h-5zM237 361h5v1h-5zM237 362h5v1h-5z" fill="#ffff00"/>
<path d="M238 356h3v1h-3zM237 357h1v1h-1zM241 357h1v1h-1zM236 358h1v1h-1zM242 358h1v1h-1zM235 359h1v1h-1zM243 359h1v1h-1zM235 360h1v1h-1zM243 360h1v1h-1zM235 361h1v1h-1zM243 361h1v1h-1zM236 362h1v1h-1zM242 362h1v1h-1zM237 363h1v1h-1zM241 363h1v1h-1zM238 364h3v1h-3z" fill="#000"/>
<path d="M692 358h5v1h-5zM692 359h5v1h-5zM692 360h5v1h-5zM692 361h5v1h-5zM692 362h5v1h-5z" fill="#ffff00"/>
<path d="M693 356h3v1h-3zM692 357h1v1h-1zM696 357h1v1h-1zM691 358h1v1h-1zM697 358h1v1h-1zM690 359h1v1h-1zM698 359h1v1h-1zM690 360h1v1h-1zM698 360h1v1h-1zM690 361h1v1h-1zM698 361h1v1h-1zM691 362h1v1h-1zM697 362h1v1h-1zM692 363h1v1h-1zM696 363h1v1h-1zM693 364h3v1h-3z" fill="#000"/>
<rect x="69" y="365" width="737" height="1" fill="#000000"/>
<rect x="70" y="366" width="736" height="1" fill="#ffff00"/>
<rect x="70" y="367" width="1" height="1" fill="#000"/>
<rect x="85" y="367" width="1" height="1" fill="#000"/>
<rect x="100" y="367" width="1" height="1" fill="#000"/>
<rect x="116" y="367" width="1" height="1" fill="#000"/>
<rect x="131" y="367" width="1" height="1" fill="#000"/>
<rect x="147" y="367" width="1" height="1" fill="#000"/>
<rect x="162" y="367" width="1" height="1" fill="#000"/>
<rect x="177" y="367" width="1" height="1" fill="#000"/>
<rect x="193" y="367" width="1" height="1" fill="#000"/>
<rect x="208" y="367" width="1" height="1" fill="#000"/>
<rect x="224" y="367" width="1" height="1" fill="#000"/>
<rect x="239" y="367" width="1" height="1" fill="#000"/>
<rect x="255" y="367" width="1" height="1" fill="#000"/>
<rect x="270" y="367" width="1" height="1" fill="#000"/>
<rect x="285" y="367" width="1" height="1" fill="#000"/>
<rect x="301" y="367" width="1" height="1" fill="#000"/>
<rect x="316" y="367" width="1" height="1" fill="#000"/>
<rect x="332" y="367" width="1" height="1" fill="#000"/>
<rect x="347" y="367" width="1" height="1" fill="#000"/>
<rect x="362" y="367" width="1" height="1" fill="#000"/>
<rect x="378" y="367" width="1" height="1" fill="#000"/>
<rect x="393" y="367" width="1" height="1" fill="#000"/>
<rect x="409" y="367" width="1" height="1" fill="#000"/>
<rect x="424" y="367" width="1" height="1" fill="#000"/>
<rect x="440" y="367" width="1" height="1" fill="#000"/>
<rect x="455" y="367" width="1" height="1" fill="#000"/>
<rect x="470" y="367" width="1" height="1" fill="#000"/>
<rect x="486" y="367" width="1" height="1" fill="#000"/>
<rect x="501" y="367" width="1" height="1" fill="#000"/>
<rect x="517" y="367" width="1" height="1" fill="#000"/>
<rect x="532" y="367" width="1" height="1" fill="#000"/>
<rect x="548" y="367" width="1" height="1" fill="#000"/>
<rect x="563" y="367" width="1" height="1" fill="#000"/>
<rect x="578" y="367" width="1" height="1" fill="#000"/>
<rect x="594" y="367" width="1" height="1" fill="#000"/>
<rect x="609" y="367" width="1" height="1" fill="#000"/>
<rect x="625" y="367" width="1" height="1" fill="#000"/>
<rect x="640" y="367" width="1" height="1" fill="#000"/>
<rect x="655" y="367" width="1" height="1" fill="#000"/>
<rect x="671" y="367" width="1" height="1" fill="#000"/>
<rect x="686" y="367" width="1" height="1" fill="#000"/>
<rect x="702" y="367" width="1" height="1" fill="#000"/>
<rect x="717" y="367" width="1" height="1" fill="#000"/>
<rect x="733" y="367" width="1" height="1" fill="#000"/>
<rect x="748" y="367" width="1" height="1" fill="#000"/>
<rect x="763" y="367" width="1" height="1" fill="#000"/>
<rect x="779" y="367" width="1" height="1" fill="#000"/>
<rect x="794" y="367" width="1" height="1" fill="#000"/>
<rect x="28" y="40" width="1" height="327" fill="#339933"/>
<rect x="26" y="55" width="5" height="1" fill="#339933"/>
<rect x="26" y="72" width="5" height="1" fill="#339933"/>
<rect x="26" y="89" width="5" height="1" fill="#339933"/>
<rect x="26" y="106" width="5" height="1" fill="#339933"/>
<rect x="26" y="123" width="5" height="1" fill="#339933"/>
<rect x="26" y="141" width="5" height="1" fill="#339933"/>
<rect x="26" y="158" width="5" height="1" fill="#339933"/>
<rect x="26" y="175" width="5" height="1" fill="#339933"/>
<rect x="26" y="192" width="5" height="1" fill="#339933"/>
<rect x="26" y="210" width="5" height="1" fill="#339933"/>
<rect x="26" y="227" width="5" height="1" fill="#339933"/>
<rect x="26" y="244" width="5" height="1" fill="#339933"/>
<rect x="26" y="261" width="5" height="1" fill="#339933"/>
<rect x="26" y="278" width="5" height="1" fill="#339933"/>
<rect x="26" y="296" width="5" height="1" fill="#339933"/>
<rect x="26" y="313" width="5" height="1" fill="#339933"/>
<rect x="26" y="330" width="5" height="1" fill="#339933"/>
<rect x="26" y="347" width="5" height="1" fill="#339933"/>
<rect x="26" y="365" width="5" height="1" fill="#339933"/>
<rect x="50" y="40" width="1" height="327" fill="#9000d0"/>
<rect x="48" y="55" width="5" height="1" fill="#9000d0"/>
<rect x="48" y="86" width="5" height="1" fill="#9000d0"/>
<rect x="48" y="117" width="5" height="1" fill="#9000d0"/>
<rect x="48" y="148" width="5" height="1" fill="#9000d0"/>
<rect x="48" y="179" width="5" height="1" fill="#9000d0"/>
<rect x="48" y="210" width="5" height="1" fill="#9000d0"/>
<rect x="48" y="241" width="5" height="1" fill="#9000d0"/>
<rect x="48" y="272" width="5" height="1" fill="#9000d0"/>
<rect x="48" y="303" width="5" height="1" fill="#9000d0"/>
<rect x="48" y="334" width="5" height="1" fill="#9000d0"/>
<rect x="48" y="365" width="5" height="1" fill="#9000d0"/>
<rect x="70" y="40" width="1" height="327" fill="#ff0000"/>
<rect x="68" y="55" width="5" height="1" fill="#ff0000"/>
<rect x="68" y="75" width="5" height="1" fill="#ff0000"/>
<rect x="68" y="96" width="5" height="1" fill="#ff0000"/>
<rect x="68" y="117" width="5" height="1" fill="#ff0000"/>
<rect x="68" y="137" width="5" height="1" fill="#ff0000"/>
<rect x="68" y="158" width="5" height="1" fill="#ff0000"/>
<rect x="68" y="179" width="5" height="1" fill="#ff0000"/>
<rect x="68" y="199" width="5" height="1" fill="#ff0000"/>
<rect x="68" y="220" width="5" height="1" fill="#ff0000"/>
<rect x="68" y="241" width="5" height="1" fill="#ff0000"/>
<rect x="68" y="261" width="5" height="1" fill="#ff0000"/>
<rect x="68" y="282" width="5" height="1" fill="#ff0000"/>
<rect x="68" y="303" width="5" height="1" fill="#ff0000"/>
<rect x="68" y="323" width="5" height="1" fill="#ff0000"/>
<rect x="68" y="344" width="5" height="1" fill="#ff0000"/>
<rect x="68" y="365" width="5" height="1" fill="#ff0000"/>
<rect x="69" y="262" width="4" height="5" fill="#666666"/>
<rect x="805" y="40" width="1" height="326" fill="#707070"/>
<rect x="806" y="55" width="1" height="1" fill="#777777"/>
<rect x="806" y="93" width="1" height="1" fill="#777777"/>
<rect x="805" y="93" width="1" height="1" fill="#ebe5e5"/>
<rect x="806" y="132" width="1" height="1" fill="#777777"/>
<rect x="805" y="132" width="1" height="1" fill="#ebe5e5"/>
<rect x="806" y="171" width="1" height="1" fill="#777777"/>
<rect x="805" y="171" width="1" height="1" fill="#ebe5e5"/>
<rect x="806" y="210" width="1" height="1" fill="#777777"/>
<rect x="805" y="210" width="1" height="1" fill="#ebe5e5"/>
<rect x="806" y="248" width="1" height="1" fill="#777777"/>
<rect x="805" y="248" width="1" height="1" fill="#ebe5e5"/>
<rect x="806" y="287" width="1" height="1" fill="#777777"/>
<rect x="805" y="287" width="1" height="1" fill="#ebe5e5"/>
<rect x="806" y="326" width="1" height="1" fill="#777777"/>
<rect x="805" y="326" width="1" height="1" fill="#ebe5e5"/>
<rect x="825" y="40" width="1" height="327" fill="#000000"/>
<rect x="823" y="55" width="5" height="1" fill="#000000"/>
<rect x="823" y="73" width="5" height="1" fill="#000000"/>
<rect x="823" y="91" width="5" height="1" fill="#000000"/>
<rect x="823" y="109" width="5" height="1" fill="#000000"/>
<rect x="823" y="127" width="5" height="1" fill="#000000"/>
<rect x="823" y="146" width="5" height="1" fill="#000000"/>
<rect x="823" y="164" width="5" height="1" fill="#000000"/>
<rect x="823" y="182" width="5" height="1" fill="#000000"/>
<rect x="823" y="200" width="5" height="1" fill="#000000"/>
<rect x="823" y="219" width="5" height="1" fill="#000000"/>
<rect x="823" y="237" width="5" height="1" fill="#000000"/>
<rect x="823" y="255" width="5" height="1" fill="#000000"/>
<rect x="823" y="273" width="5" height="1" fill="#000000"/>
<rect x="823" y="292" width="5" height="1" fill="#000000"/>
<rect x="823" y="310" width="5" height="1" fill="#000000"/>
<rect x="823" y="328" width="5" height="1" fill="#000000"/>
<rect x="823" y="346" width="5" height="1" fill="#000000"/>
<rect x="823" y="365" width="5" height="1" fill="#000000"/>
<rect x="845" y="40" width="1" height="327" fill="#00c0ff"/>
<rect x="843" y="55" width="5" height="1" fill="#00c0ff"/>
<rect x="843" y="365" width="5" height="1" fill="#00c0ff"/>
<rect x="860" y="40" width="1" height="327" fill="#ffff00"/>
<rect x="858" y="55" width="5" height="1" fill="#ffff00"/>
<rect x="858" y="117" width="5" height="1" fill="#ffff00"/>
<rect x="858" y="179" width="5" height="1" fill="#ffff00"/>
<rect x="858" y="241" width="5" height="1" fill="#ffff00"/>
<rect x="858" y="303" width="5" height="1" fill="#ffff00"/>
<rect x="858" y="365" width="5" height="1" fill="#ffff00"/>
<rect x="875" y="40" width="1" height="327" fill="#ff8000"/>
<rect x="873" y="210" width="5" height="1" fill="#ff8000"/>
<rect x="873" y="225" width="5" height="1" fill="#ff8000"/>
<rect x="873" y="241" width="5" height="1" fill="#ff8000"/>
<rect x="873" y="256" width="5" height="1" fill="#ff8000"/>
<rect x="873" y="272" width="5" height="1" fill="#ff8000"/>
<rect x="873" y="287" width="5" height="1" fill="#ff8000"/>
<rect x="873" y="303" width="5" height="1" fill="#ff8000"/>
<rect x="873" y="318" width="5" height="1" fill="#ff8000"/>
<rect x="873" y="334" width="5" height="1" fill="#ff8000"/>
<rect x="873" y="349" width="5" height="1" fill="#ff8000"/>
<rect x="873" y="365" width="5" height="1" fill="#ff8000"/>
<rect x="10" y="9" width="11" height="2" fill="#ff0000"/>
<rect x="70" y="9" width="11" height="2" fill="#ff00ff"/>
<rect x="175" y="9" width="11" height="2" fill="#9000d0"/>
<rect x="235" y="9" width="11" height="2" fill="#339933"/>
<rect x="280" y="9" width="11" height="2" fill="#00c0ff"/>
<rect x="335" y="9" width="11" height="2" fill="#000000"/>
<rect x="430" y="9" width="11" height="2" fill="#0000cc"/>
<rect x="510" y="9" width="11" height="2" fill="#666666"/>
<rect x="585" y="9" width="11" height="2" fill="#ffff00"/>
<rect x="650" y="9" width="11" height="2" fill="#ff8000"/>
<rect x="0.5" y="0.5" width="899" height="399" fill="none" stroke="#000" stroke-width="1"/>
<defs><filter id="crisp" x="0" y="0" width="100%" height="100%" filterUnits="userSpaceOnUse"><feComponentTransfer><feFuncA type="discrete" tableValues="0 1 1"/></feComponentTransfer></filter></defs>
<defs><path id="g25" d="M0 0h2v1h-2zM0 1h2v1h-2zM3 1h1v1h-1zM2 2h1v1h-1zM1 3h1v1h-1zM0 4h1v1h-1zM2 4h2v1h-2zM2 5h2v1h-2z"/><path id="g2e" d="M1 4h2v1h-2zM1 5h2v1h-2z"/><path id="g2f" d="M4 1h1v1h-1zM3 2h1v1h-1zM2 3h1v1h-1zM1 4h1v1h-1z"/><path id="g30" d="M2 0h1v1h-1zM1 1h1v1h-1zM3 1h1v1h-1zM1 2h1v1h-1zM3 2h1v1h-1zM1 3h1v1h-1zM3 3h1v1h-1zM1 4h1v1h-1zM3 4h1v1h-1zM2 5h1v1h-1z"/><path id="g31" d="M2 0h1v1h-1zM1 1h2v1h-2zM2 2h1v1h-1zM2 3h1v1h-1zM2 4h1v1h-1zM1 5h3v1h-3z"/><path id="g32" d="M1 0h2v1h-2zM0 1h1v1h-1zM3 1h1v1h-1zM3 2h1v1h-1zM2 3h1v1h-1zM1 4h1v1h-1zM0 5h4v1h-4z"/><path id="g33" d="M1 0h2v1h-2zM0 1h1v1h-1zM3 1h1v1h-1zM2 2h1v1h-1zM3 3h1v1h-1zM0 4h1v1h-1zM3 4h1v1h-1zM1 5h2v1h-2z"/><path id="g34" d="M2 0h1v1h-1zM1 1h2v1h-2zM0 2h1v1h-1zM2 2h1v1h-1zM0 3h4v1h-4zM2 4h1v1h-1zM2 5h1v1h-1z"/><path id="g35" d="M0 0h4v1h-4zM0 1h1v1h-1zM0 2h3v1h-3zM3 3h1v1h-1zM0 4h1v1h-1zM3 4h1v1h-1zM1 5h2v1h-2z"/><path id="g36" d="M1 0h2v1h-2zM0 1h1v1h-1zM0 2h1v1h-1zM2 2h1v1h-1zM0 3h2v1h-2zM3 3h1v1h-1zM0 4h1v1h-1zM3 4h1v1h-1zM1 5h2v1h-2z"/><path id="g37" d="M0 0h4v1h-4zM3 1h1v1h-1zM2 2h1v1h-1zM2 3h1v1h-1zM1 4h1v1h-1zM1 5h1v1h-1z"/><path id="g38" d="M1 0h2v1h-2zM0 1h1v1h-1zM3 1h1v1h-1zM1 2h2v1h-2zM0 3h1v1h-1zM3 3h1v1h-1zM0 4h1v1h-1zM3 4h1v1h-1zM1 5h2v1h-2z"/><path id="g39" d="M1 0h2v1h-2zM0 1h1v1h-1zM3 1h1v1h-1zM0 2h1v1h-1zM3 2h1v1h-1zM1 3h3v1h-3zM3 4h1v1h-1zM1 5h2v1h-2z"/><path id="g3a" d="M1 1h2v1h-2zM1 2h2v1h-2zM1 4h2v1h-2zM1 5h2v1h-2z"/><path id="g43" d="M1 0h2v1h-2zM0 1h1v1h-1zM3 1h1v1h-1zM0 2h1v1h-1zM0 3h1v1h-1zM0 4h1v1h-1zM3 4h1v1h-1zM1 5h2v1h-2z"/><path id="g45" d="M0 0h4v1h-4zM0 1h1v1h-1zM0 2h3v1h-3zM0 3h1v1h-1zM0 4h1v1h-1zM0 5h4v1h-4z"/><path id="g47" d="M1 0h2v1h-2zM0 1h1v1h-1zM3 1h1v1h-1zM0 2h1v1h-1zM0 3h1v1h-1zM2 3h2v1h-2zM0 4h1v1h-1zM3 4h1v1h-1zM1 5h3v1h-3z"/><path id="g4e" d="M0 0h1v1h-1zM3 0h1v1h-1zM0 1h2v1h-2zM3 1h1v1h-1zM0 2h2v1h-2zM3 2h1v1h-1zM0 3h1v1h-1zM2 3h2v1h-2zM0 4h1v1h-1zM2 4h2v1h-2zM0 5h1v1h-1zM3 5h1v1h-1z"/><path id="g50" d="M0 0h3v1h-3zM0 1h1v1h-1zM3 1h1v1h-1zM0 2h1v1h-1zM3 2h1v1h-1zM0 3h3v1h-3zM0 4h1v1h-1zM0 5h1v1h-1z"/><path id="g52" d="M0 0h3v1h-3zM0 1h1v1h-1zM3 1h1v1h-1zM0 2h1v1h-1zM3 2h1v1h-1zM0 3h3v1h-3zM0 4h1v1h-1zM2 4h1v1h-1zM0 5h1v1h-1zM3 5h1v1h-1z"/><path id="g53" d="M1 0h3v1h-3zM0 1h1v1h-1zM1 2h2v1h-2zM3 3h1v1h-1zM3 4h1v1h-1zM0 5h3v1h-3z"/><path id="g54" d="M0 0h5v1h-5zM2 1h1v1h-1zM2 2h1v1h-1zM2 3h1v1h-1zM2 4h1v1h-1zM2 5h1v1h-1z"/><path id="g55" d="M0 0h1v1h-1zM3 0h1v1h-1zM0 1h1v1h-1zM3 1h1v1h-1zM0 2h1v1h-1zM3 2h1v1h-1zM0 3h1v1h-1zM3 3h1v1h-1zM0 4h1v1h-1zM3 4h1v1h-1zM1 5h2v1h-2z"/><path id="g56" d="M0 0h1v1h-1zM3 0h1v1h-1zM0 1h1v1h-1zM3 1h1v1h-1zM0 2h1v1h-1zM3 2h1v1h-1zM0 3h1v1h-1zM3 3h1v1h-1zM0 4h1v1h-1zM3 4h1v1h-1zM1 5h2v1h-2z"/><path id="g57" d="M0 0h1v1h-1zM3 0h1v1h-1zM0 1h1v1h-1zM3 1h1v1h-1zM0 2h1v1h-1zM3 2h1v1h-1zM0 3h4v1h-4zM0 4h4v1h-4zM0 5h1v1h-1zM3 5h1v1h-1z"/><path id="g5a" d="M0 0h4v1h-4zM3 1h1v1h-1zM2 2h1v1h-1zM1 3h1v1h-1zM0 4h1v1h-1zM0 5h4v1h-4z"/><path id="g61" d="M1 2h3v1h-3zM0 3h1v1h-1zM3 3h1v1h-1zM0 4h1v1h-1zM3 4h1v1h-1zM1 5h1v1h-1zM3 5h1v1h-1z"/><path id="g63" d="M1 2h2v1h-2zM0 3h1v1h-1zM0 4h1v1h-1zM1 5h2v1h-2z"/><path id="g64" d="M3 0h1v1h-1zM3 1h1v1h-1zM1 2h3v1h-3zM0 3h1v1h-1zM3 3h1v1h-1zM0 4h1v1h-1zM3 4h1v1h-1zM1 5h3v1h-3z"/><path id="g65" d="M1 2h2v1h-2zM0 3h4v1h-4zM0 4h1v1h-1zM1 5h2v1h-2z"/><path id="g67" d="M1 2h3v1h-3zM0 3h1v1h-1zM3 3h1v1h-1zM1 4h3v1h-3zM3 5h1v1h-1zM1 6h2v1h-2z"/><path id="g68" d="M0 0h1v1h-1zM0 1h1v1h-1zM0 2h3v1h-3zM0 3h1v1h-1zM3 3h1v1h-1zM0 4h1v1h-1zM3 4h1v1h-1zM0 5h1v1h-1zM3 5h1v1h-1z"/><path id="g69" d="M2 0h1v1h-1zM1 2h2v1h-2zM2 3h1v1h-1zM2 4h1v1h-1zM1 5h3v1h-3z"/><path id="g6b" d="M0 0h1v1h-1zM0 1h1v1h-1zM0 2h1v1h-1zM3 2h1v1h-1zM0 3h1v1h-1zM2 3h1v1h-1zM0 4h3v1h-3zM0 5h1v1h-1zM3 5h1v1h-1z"/><path id="g6c" d="M1 0h2v1h-2zM2 1h1v1h-1zM2 2h1v1h-1zM2 3h1v1h-1zM2 4h1v1h-1zM1 5h3v1h-3z"/><path id="g6d" d="M0 2h2v1h-2zM3 2h1v1h-1zM0 3h1v1h-1zM2 3h1v1h-1zM4 3h1v1h-1zM0 4h1v1h-1zM2 4h1v1h-1zM4 4h1v1h-1zM0 5h1v1h-1zM4 5h1v1h-1z"/><path id="g6e" d="M0 2h3v1h-3zM0 3h1v1h-1zM3 3h1v1h-1zM0 4h1v1h-1zM3 4h1v1h-1zM0 5h1v1h-1zM3 5h1v1h-1z"/><path id="g6f" d="M1 2h2v1h-2zM0 3h1v1h-1zM3 3h1v1h-1zM0 4h1v1h-1zM3 4h1v1h-1zM1 5h2v1h-2z"/><path id="g70" d="M0 2h3v1h-3zM0 3h1v1h-1zM3 3h1v1h-1zM0 4h1v1h-1zM3 4h1v1h-1zM0 5h3v1h-3zM0 6h1v1h-1z"/><path id="g72" d="M0 2h1v1h-1zM2 2h2v1h-2zM0 3h2v1h-2zM0 4h1v1h-1zM0 5h1v1h-1z"/><path id="g73" d="M1 2h3v1h-3zM0 3h2v1h-2zM2 4h2v1h-2zM0 5h3v1h-3z"/><path id="g74" d="M1 0h1v1h-1zM1 1h1v1h-1zM0 2h3v1h-3zM1 3h1v1h-1zM1 4h1v1h-1zM3 4h1v1h-1zM2 5h1v1h-1z"/><path id="g75" d="M0 2h1v1h-1zM3 2h1v1h-1zM0 3h1v1h-1zM3 3h1v1h-1zM0 4h1v1h-1zM3 4h1v1h-1zM1 5h3v1h-3z"/><path id="g76" d="M0 2h1v1h-1zM3 2h1v1h-1zM0 3h1v1h-1zM3 3h1v1h-1zM1 4h1v1h-1zM3 4h1v1h-1zM2 5h1v1h-1z"/><path id="g78" d="M0 2h1v1h-1zM3 2h1v1h-1zM1 3h2v1h-2zM1 4h2v1h-2zM0 5h1v1h-1zM3 5h1v1h-1z"/><path id="g79" d="M0 2h1v1h-1zM3 2h1v1h-1zM0 3h1v1h-1zM3 3h1v1h-1zM1 4h3v1h-3zM3 5h1v1h-1zM1 6h2v1h-2z"/><path id="g7a" d="M0 2h4v1h-4zM2 3h1v1h-1zM1 4h1v1h-1zM0 5h4v1h-4z"/><path id="gb0" d="M2 0h1v1h-1zM1 1h1v1h-1zM3 1h1v1h-1zM2 2h1v1h-1z"/><path id="ge1" d="M3 -1h1v1h-1zM2 0h1v1h-1zM1 2h3v1h-3zM0 3h1v1h-1zM3 3h1v1h-1zM0 4h1v1h-1zM3 4h1v1h-1zM1 5h1v1h-1zM3 5h1v1h-1z"/><path id="ged" d="M3 -1h1v1h-1zM2 0h1v1h-1zM1 2h2v1h-2zM2 3h1v1h-1zM2 4h1v1h-1zM1 5h3v1h-3z"/><path id="gfd" d="M3 -1h1v1h-1zM2 0h1v1h-1zM0 2h1v1h-1zM3 2h1v1h-1zM0 3h1v1h-1zM3 3h1v1h-1zM1 4h3v1h-3zM3 5h1v1h-1zM1 6h2v1h-2z"/><path id="g10d" d="M1 -1h1v1h-1zM3 -1h1v1h-1zM2 0h1v1h-1zM1 2h2v1h-2zM0 3h1v1h-1zM0 4h1v1h-1zM1 5h2v1h-2z"/><path id="g11b" d="M1 -1h1v1h-1zM3 -1h1v1h-1zM2 0h1v1h-1zM1 2h2v1h-2zM0 3h4v1h-4zM0 4h1v1h-1zM1 5h2v1h-2z"/><path id="g159" d="M1 -1h1v1h-1zM3 -1h1v1h-1zM2 0h1v1h-1zM0 2h1v1h-1zM2 2h2v1h-2zM0 3h2v1h-2zM0 4h1v1h-1zM0 5h1v1h-1z"/><path id="g17e" d="M1 -1h1v1h-1zM3 -1h1v1h-1zM2 0h1v1h-1zM0 2h4v1h-4zM2 3h1v1h-1zM1 4h1v1h-1zM0 5h4v1h-4z"/></defs>
<g>
<g fill="#339933" transform="translate(6,41)"><use href="#g68" x="0"/><use href="#g50" x="5"/><use href="#g61" x="10"/><text x="0" y="6" class="t">hPa</text></g>
<g fill="#339933" transform="translate(3,52)"><use href="#g31" x="0"/><use href="#g30" x="5"/><use href="#g32" x="10"/><use href="#g30" x="15"/><text x="0" y="6" class="t">1020</text></g>
<g fill="#339933" transform="translate(3,69)"><use href="#g31" x="0"/><use href="#g30" x="5"/><use href="#g31" x="10"/><use href="#g39" x="15"/><text x="0" y="6" class="t">1019</text></g>
<g fill="#339933" transform="translate(3,86)"><use href="#g31" x="0"/><use href="#g30" x="5"/><use href="#g31" x="10"/><use href="#g38" x="15"/><text x="0" y="6" class="t">1018</text></g>
<g fill="#339933" transform="translate(3,103)"><use href="#g31" x="0"/><use href="#g30" x="5"/><use href="#g31" x="10"/><use href="#g37" x="15"/><text x="0" y="6" class="t">1017</text></g>
<g fill="#339933" transform="translate(3,120)"><use href="#g31" x="0"/><use href="#g30" x="5"/><use href="#g31" x="10"/><use href="#g36" x="15"/><text x="0" y="6" class="t">1016</text></g>
<g fill="#339933" transform="translate(3,138)"><use href="#g31" x="0"/><use href="#g30" x="5"/><use href="#g31" x="10"/><use href="#g35" x="15"/><text x="0" y="6" class="t">1015</text></g>
<g fill="#339933" transform="translate(3,155)"><use href="#g31" x="0"/><use href="#g30" x="5"/><use href="#g31" x="10"/><use href="#g34" x="15"/><text x="0" y="6" class="t">1014</text></g>
<g fill="#339933" transform="translate(3,172)"><use href="#g31" x="0"/><use href="#g30" x="5"/><use href="#g31" x="10"/><use href="#g33" x="15"/><text x="0" y="6" class="t">1013</text></g>
<g fill="#339933" transform="translate(3,189)"><use href="#g31" x="0"/><use href="#g30" x="5"/><use href="#g31" x="10"/><use href="#g32" x="15"/><text x="0" y="6" class="t">1012</text></g>
<g fill="#339933" transform="translate(3,207)"><use href="#g31" x="0"/><use href="#g30" x="5"/><use href="#g31" x="10"/><use href="#g31" x="15"/><text x="0" y="6" class="t">1011</text></g>
<g fill="#339933" transform="translate(3,224)"><use href="#g31" x="0"/><use href="#g30" x="5"/><use href="#g31" x="10"/><use href="#g30" x="15"/><text x="0" y="6" class="t">1010</text></g>
<g fill="#339933" transform="translate(3,241)"><use href="#g31" x="0"/><use href="#g30" x="5"/><use href="#g30" x="10"/><use href="#g39" x="15"/><text x="0" y="6" class="t">1009</text></g>
<g fill="#339933" transform="translate(3,258)"><use href="#g31" x="0"/><use href="#g30" x="5"/><use href="#g30" x="10"/><use href="#g38" x="15"/><text x="0" y="6" class="t">1008</text></g>
<g fill="#339933" transform="translate(3,275)"><use href="#g31" x="0"/><use href="#g30" x="5"/><use href="#g30" x="10"/><use href="#g37" x="15"/><text x="0" y="6" class="t">1007</text></g>
<g fill="#339933" transform="translate(3,293)"><use href="#g31" x="0"/><use href="#g30" x="5"/><use href="#g30" x="10"/><use href="#g36" x="15"/><text x="0" y="6" class="t">1006</text></g>
<g fill="#339933" transform="translate(3,310)"><use href="#g31" x="0"/><use href="#g30" x="5"/><use href="#g30" x="10"/><use href="#g35" x="15"/><text x="0" y="6" class="t">1005</text></g>
<g fill="#339933" transform="translate(3,327)"><use href="#g31" x="0"/><use href="#g30" x="5"/><use href="#g30" x="10"/><use href="#g34" x="15"/><text x="0" y="6" class="t">1004</text></g>
<g fill="#339933" transform="translate(3,344)"><use href="#g31" x="0"/><use href="#g30" x="5"/><use href="#g30" x="10"/><use href="#g33" x="15"/><text x="0" y="6" class="t">1003</text></g>
<g fill="#339933" transform="translate(3,362)"><use href="#g31" x="0"/><use href="#g30" x="5"/><use href="#g30" x="10"/><use href="#g32" x="15"/><text x="0" y="6" class="t">1002</text></g>
<g fill="#9000d0" transform="translate(40,41)"><use href="#g25" x="0"/><text x="0" y="6" class="t">%</text></g>
<g fill="#9000d0" transform="translate(30,52)"><use href="#g31" x="0"/><use href="#g30" x="5"/><use href="#g30" x="10"/><text x="0" y="6" class="t">100</text></g>
<g fill="#9000d0" transform="translate(35,83)"><use href="#g39" x="0"/><use href="#g30" x="5"/><text x="0" y="6" class="t">90</text></g>
<g fill="#9000d0" transform="translate(35,114)"><use href="#g38" x="0"/><use href="#g30" x="5"/><text x="0" y="6" class="t">80</text></g>
<g fill="#9000d0" transform="translate(35,145)"><use href="#g37" x="0"/><use href="#g30" x="5"/><text x="0" y="6" class="t">70</text></g>
<g fill="#9000d0" transform="translate(35,176)"><use href="#g36" x="0"/><use href="#g30" x="5"/><text x="0" y="6" class="t">60</text></g>
<g fill="#9000d0" transform="translate(35,207)"><use href="#g35" x="0"/><use href="#g30" x="5"/><text x="0" y="6" class="t">50</text></g>
<g fill="#9000d0" transform="translate(35,238)"><use href="#g34" x="0"/><use href="#g30" x="5"/><text x="0" y="6" class="t">40</text></g>
<g fill="#9000d0" transform="translate(35,269)"><use href="#g33" x="0"/><use href="#g30" x="5"/><text x="0" y="6" class="t">30</text></g>
<g fill="#9000d0" transform="translate(35,300)"><use href="#g32" x="0"/><use href="#g30" x="5"/><text x="0" y="6" class="t">20</text></g>
<g fill="#9000d0" transform="translate(35,331)"><use href="#g31" x="0"/><use href="#g30" x="5"/><text x="0" y="6" class="t">10</text></g>
<g fill="#9000d0" transform="translate(40,362)"><use href="#g30" x="0"/><text x="0" y="6" class="t">0</text></g>
<g fill="#ff0000" transform="translate(57,41)"><use href="#gb0" x="0"/><use href="#g43" x="5"/><text x="0" y="6" class="t">°C</text></g>
<g fill="#ff0000" transform="translate(57,52)"><use href="#g33" x="0"/><use href="#g35" x="5"/><text x="0" y="6" class="t">35</text></g>
<g fill="#ff0000" transform="translate(57,72)"><use href="#g33" x="0"/><use href="#g33" x="5"/><text x="0" y="6" class="t">33</text></g>
<g fill="#ff0000" transform="translate(57,93)"><use href="#g33" x="0"/><use href="#g31" x="5"/><text x="0" y="6" class="t">31</text></g>
<g fill="#ff0000" transform="translate(57,114)"><use href="#g32" x="0"/><use href="#g39" x="5"/><text x="0" y="6" class="t">29</text></g>
<g fill="#ff0000" transform="translate(57,134)"><use href="#g32" x="0"/><use href="#g37" x="5"/><text x="0" y="6" class="t">27</text></g>
<g fill="#ff0000" transform="translate(57,155)"><use href="#g32" x="0"/><use href="#g35" x="5"/><text x="0" y="6" class="t">25</text></g>
<g fill="#ff0000" transform="translate(57,176)"><use href="#g32" x="0"/><use href="#g33" x="5"/><text x="0" y="6" class="t">23</text></g>
<g fill="#ff0000" transform="translate(57,196)"><use href="#g32" x="0"/><use href="#g31" x="5"/><text x="0" y="6" class="t">21</text></g>
<g fill="#ff0000" transform="translate(57,217)"><use href="#g31" x="0"/><use href="#g39" x="5"/><text x="0" y="6" class="t">19</text></g>
<g fill="#ff0000" transform="translate(57,238)"><use href="#g31" x="0"/><use href="#g37" x="5"/><text x="0" y="6" class="t">17</text></g>
<g fill="#ff0000" transform="translate(57,258)"><use href="#g31" x="0"/><use href="#g35" x="5"/><text x="0" y="6" class="t">15</text></g>
<g fill="#ff0000" transform="translate(57,279)"><use href="#g31" x="0"/><use href="#g33" x="5"/><text x="0" y="6" class="t">13</text></g>
<g fill="#ff0000" transform="translate(57,300)"><use href="#g31" x="0"/><use href="#g31" x="5"/><text x="0" y="6" class="t">11</text></g>
<g fill="#ff0000" transform="translate(62,320)"><use href="#g39" x="0"/><text x="0" y="6" class="t">9</text></g>
<g fill="#ff0000" transform="translate(62,341)"><use href="#g37" x="0"/><text x="0" y="6" class="t">7</text></g>
<g fill="#ff0000" transform="translate(62,362)"><use href="#g35" x="0"/><text x="0" y="6" class="t">5</text></g>
<g fill="#777777" transform="translate(807,41)"><use href="#gb0" x="0"/><text x="0" y="6" class="t">°</text></g>
<g fill="#777777" transform="translate(808,52)"><use href="#g33" x="0"/><use href="#g36" x="5"/><use href="#g30" x="10"/><text x="0" y="6" class="t">360</text></g>
<g fill="#777777" transform="translate(813,60)"><use href="#g4e" x="0"/><text x="0" y="6" class="t">N</text></g>
<g fill="#777777" transform="translate(808,90)"><use href="#g33" x="0"/><use href="#g31" x="5"/><use href="#g35" x="10"/><text x="0" y="6" class="t">315</text></g>
<g fill="#777777" transform="translate(808,98)"><use href="#g4e" x="0"/><use href="#g57" x="5"/><text x="0" y="6" class="t">NW</text></g>
<g fill="#777777" transform="translate(808,129)"><use href="#g32" x="0"/><use href="#g37" x="5"/><use href="#g30" x="10"/><text x="0" y="6" class="t">270</text></g>
<g fill="#777777" transform="translate(813,137)"><use href="#g57" x="0"/><text x="0" y="6" class="t">W</text></g>
<g fill="#777777" transform="translate(808,168)"><use href="#g32" x="0"/><use href="#g32" x="5"/><use href="#g35" x="10"/><text x="0" y="6" class="t">225</text></g>
<g fill="#777777" transform="translate(808,176)"><use href="#g53" x="0"/><use href="#g57" x="5"/><text x="0" y="6" class="t">SW</text></g>
<g fill="#777777" transform="translate(808,207)"><use href="#g31" x="0"/><use href="#g38" x="5"/><use href="#g30" x="10"/><text x="0" y="6" class="t">180</text></g>
<g fill="#777777" transform="translate(813,215)"><use href="#g53" x="0"/><text x="0" y="6" class="t">S</text></g>
<g fill="#777777" transform="translate(808,245)"><use href="#g31" x="0"/><use href="#g33" x="5"/><use href="#g35" x="10"/><text x="0" y="6" class="t">135</text></g>
<g fill="#777777" transform="translate(808,253)"><use href="#g53" x="0"/><use href="#g45" x="5"/><text x="0" y="6" class="t">SE</text></g>
<g fill="#777777" transform="translate(808,284)"><use href="#g39" x="0"/><use href="#g30" x="5"/><text x="0" y="6" class="t">90</text></g>
<g fill="#777777" transform="translate(813,292)"><use href="#g45" x="0"/><text x="0" y="6" class="t">E</text></g>
<g fill="#777777" transform="translate(808,323)"><use href="#g34" x="0"/><use href="#g35" x="5"/><text x="0" y="6" class="t">45</text></g>
<g fill="#777777" transform="translate(808,331)"><use href="#g4e" x="0"/><use href="#g45" x="5"/><text x="0" y="6" class="t">NE</text></g>
<g fill="#000000" transform="translate(828,41)"><use href="#g6d" x="0"/><use href="#g2f" x="5"/><use href="#g73" x="10"/><text x="0" y="6" class="t">m/s</text></g>
<g fill="#000000" transform="translate(828,52)"><use href="#g31" x="0"/><use href="#g37" x="5"/><text x="0" y="6" class="t">17</text></g>
<g fill="#000000" transform="translate(828,70)"><use href="#g31" x="0"/><use href="#g36" x="5"/><text x="0" y="6" class="t">16</text></g>
<g fill="#000000" transform="translate(828,88)"><use href="#g31" x="0"/><use href="#g35" x="5"/><text x="0" y="6" class="t">15</text></g>
<g fill="#000000" transform="translate(828,106)"><use href="#g31" x="0"/><use href="#g34" x="5"/><text x="0" y="6" class="t">14</text></g>
<g fill="#000000" transform="translate(828,124)"><use href="#g31" x="0"/><use href="#g33" x="5"/><text x="0" y="6" class="t">13</text></g>
<g fill="#000000" transform="translate(828,143)"><use href="#g31" x="0"/><use href="#g32" x="5"/><text x="0" y="6" class="t">12</text></g>
<g fill="#000000" transform="translate(828,161)"><use href="#g31" x="0"/><use href="#g31" x="5"/><text x="0" y="6" class="t">11</text></g>
<g fill="#000000" transform="translate(828,179)"><use href="#g31" x="0"/><use href="#g30" x="5"/><text x="0" y="6" class="t">10</text></g>
<g fill="#000000" transform="translate(828,197)"><use href="#g39" x="0"/><text x="0" y="6" class="t">9</text></g>
<g fill="#000000" transform="translate(828,216)"><use href="#g38" x="0"/><text x="0" y="6" class="t">8</text></g>
<g fill="#000000" transform="translate(828,234)"><use href="#g37" x="0"/><text x="0" y="6" class="t">7</text></g>
<g fill="#000000" transform="translate(828,252)"><use href="#g36" x="0"/><text x="0" y="6" class="t">6</text></g>
<g fill="#000000" transform="translate(828,270)"><use href="#g35" x="0"/><text x="0" y="6" class="t">5</text></g>
<g fill="#000000" transform="translate(828,289)"><use href="#g34" x="0"/><text x="0" y="6" class="t">4</text></g>
<g fill="#000000" transform="translate(828,307)"><use href="#g33" x="0"/><text x="0" y="6" class="t">3</text></g>
<g fill="#000000" transform="translate(828,325)"><use href="#g32" x="0"/><text x="0" y="6" class="t">2</text></g>
<g fill="#000000" transform="translate(828,343)"><use href="#g31" x="0"/><text x="0" y="6" class="t">1</text></g>
<g fill="#000000" transform="translate(828,362)"><use href="#g30" x="0"/><text x="0" y="6" class="t">0</text></g>
<g fill="#00c0ff" transform="translate(848,41)"><use href="#g6d" x="0"/><use href="#g6d" x="5"/><text x="0" y="6" class="t">mm</text></g>
<g fill="#00c0ff" transform="translate(848,52)"><use href="#g31" x="0"/><text x="0" y="6" class="t">1</text></g>
<g fill="#00c0ff" transform="translate(848,362)"><use href="#g30" x="0"/><text x="0" y="6" class="t">0</text></g>
<g fill="#ffff00" transform="translate(863,52)"><use href="#g35" x="0"/><text x="0" y="6" class="t">5</text></g>
<g fill="#ffff00" transform="translate(863,114)"><use href="#g34" x="0"/><text x="0" y="6" class="t">4</text></g>
<g fill="#ffff00" transform="translate(863,176)"><use href="#g33" x="0"/><text x="0" y="6" class="t">3</text></g>
<g fill="#ffff00" transform="translate(863,238)"><use href="#g32" x="0"/><text x="0" y="6" class="t">2</text></g>
<g fill="#ffff00" transform="translate(863,300)"><use href="#g31" x="0"/><text x="0" y="6" class="t">1</text></g>
<g fill="#ffff00" transform="translate(863,362)"><use href="#g30" x="0"/><text x="0" y="6" class="t">0</text></g>
<g fill="#ff8000" transform="translate(878,41)"><use href="#g57" x="0"/><text x="0" y="6" class="t">W</text></g>
<g fill="#ff8000" transform="translate(878,207)"><use href="#g31" x="0"/><use href="#g35" x="5"/><use href="#g30" x="10"/><use href="#g30" x="15"/><text x="0" y="6" class="t">1500</text></g>
<g fill="#ff8000" transform="translate(878,222)"><use href="#g31" x="0"/><use href="#g33" x="5"/><use href="#g35" x="10"/><use href="#g30" x="15"/><text x="0" y="6" class="t">1350</text></g>
<g fill="#ff8000" transform="translate(878,238)"><use href="#g31" x="0"/><use href="#g32" x="5"/><use href="#g30" x="10"/><use href="#g30" x="15"/><text x="0" y="6" class="t">1200</text></g>
<g fill="#ff8000" transform="translate(878,253)"><use href="#g31" x="0"/><use href="#g30" x="5"/><use href="#g35" x="10"/><use href="#g30" x="15"/><text x="0" y="6" class="t">1050</text></g>
<g fill="#ff8000" transform="translate(878,269)"><use href="#g39" x="0"/><use href="#g30" x="5"/><use href="#g30" x="10"/><text x="0" y="6" class="t">900</text></g>
<g fill="#ff8000" transform="translate(878,284)"><use href="#g37" x="0"/><use href="#g35" x="5"/><use href="#g30" x="10"/><text x="0" y="6" class="t">750</text></g>
<g fill="#ff8000" transform="translate(878,300)"><use href="#g36" x="0"/><use href="#g30" x="5"/><use href="#g30" x="10"/><text x="0" y="6" class="t">600</text></g>
<g fill="#ff8000" transform="translate(878,315)"><use href="#g34" x="0"/><use href="#g35" x="5"/><use href="#g30" x="10"/><text x="0" y="6" class="t">450</text></g>
<g fill="#ff8000" transform="translate(878,331)"><use href="#g33" x="0"/><use href="#g30" x="5"/><use href="#g30" x="10"/><text x="0" y="6" class="t">300</text></g>
<g fill="#ff8000" transform="translate(878,346)"><use href="#g31" x="0"/><use href="#g35" x="5"/><use href="#g30" x="10"/><text x="0" y="6" class="t">150</text></g>
<g fill="#ff8000" transform="translate(878,362)"><use href="#g30" x="0"/><text x="0" y="6" class="t">0</text></g>
<g fill="#000000" transform="translate(815,372)"><use href="#g10d" x="0"/><use href="#g61" x="5"/><use href="#g73" x="10"/><text x="0" y="6" class="t">čas</text></g>
<g fill="#000" transform="translate(67,397) rotate(-90)"><use href="#g30" x="0"/><use href="#g30" x="5"/><use href="#g3a" x="10"/><use href="#g30" x="15"/><use href="#g36" x="20"/><text x="0" y="6" class="t">00:06</text></g>
<g fill="#000" transform="translate(82,397) rotate(-90)"><use href="#g30" x="0"/><use href="#g30" x="5"/><use href="#g3a" x="10"/><use href="#g33" x="15"/><use href="#g36" x="20"/><text x="0" y="6" class="t">00:36</text></g>
<g fill="#000" transform="translate(97,397) rotate(-90)"><use href="#g30" x="0"/><use href="#g31" x="5"/><use href="#g3a" x="10"/><use href="#g30" x="15"/><use href="#g36" x="20"/><text x="0" y="6" class="t">01:06</text></g>
<g fill="#000" transform="translate(113,397) rotate(-90)"><use href="#g30" x="0"/><use href="#g31" x="5"/><use href="#g3a" x="10"/><use href="#g33" x="15"/><use href="#g36" x="20"/><text x="0" y="6" class="t">01:36</text></g>
<g fill="#000" transform="translate(128,397) rotate(-90)"><use href="#g30" x="0"/><use href="#g32" x="5"/><use href="#g3a" x="10"/><use href="#g30" x="15"/><use href="#g36" x="20"/><text x="0" y="6" class="t">02:06</text></g>
<g fill="#000" transform="translate(144,397) rotate(-90)"><use href="#g30" x="0"/><use href="#g32" x="5"/><use href="#g3a" x="10"/><use href="#g33" x="15"/><use href="#g36" x="20"/><text x="0" y="6" class="t">02:36</text></g>
<g fill="#000" transform="translate(159,397) rotate(-90)"><use href="#g30" x="0"/><use href="#g33" x="5"/><use href="#g3a" x="10"/><use href="#g30" x="15"/><use href="#g36" x="20"/><text x="0" y="6" class="t">03:06</text></g>
<g fill="#000" transform="translate(174,397) rotate(-90)"><use href="#g30" x="0"/><use href="#g33" x="5"/><use href="#g3a" x="10"/><use href="#g33" x="15"/><use href="#g36" x="20"/><text x="0" y="6" class="t">03:36</text></g>
<g fill="#000" transform="translate(190,397) rotate(-90)"><use href="#g30" x="0"/><use href="#g34" x="5"/><use href="#g3a" x="10"/><use href="#g30" x="15"/><use href="#g36" x="20"/><text x="0" y="6" class="t">04:06</text></g>
<g fill="#000" transform="translate(205,397) rotate(-90)"><use href="#g30" x="0"/><use href="#g34" x="5"/><use href="#g3a" x="10"/><use href="#g33" x="15"/><use href="#g36" x="20"/><text x="0" y="6" class="t">04:36</text></g>
<g fill="#000" transform="translate(221,397) rotate(-90)"><use href="#g30" x="0"/><use href="#g35" x="5"/><use href="#g3a" x="10"/><use href="#g30" x="15"/><use href="#g36" x="20"/><text x="0" y="6" class="t">05:06</text></g>
<g fill="#000" transform="translate(236,397) rotate(-90)"><use href="#g30" x="0"/><use href="#g35" x="5"/><use href="#g3a" x="10"/><use href="#g33" x="15"/><use href="#g36" x="20"/><text x="0" y="6" class="t">05:36</text></g>
<g fill="#000" transform="translate(252,397) rotate(-90)"><use href="#g30" x="0"/><use href="#g36" x="5"/><use href="#g3a" x="10"/><use href="#g30" x="15"/><use href="#g36" x="20"/><text x="0" y="6" class="t">06:06</text></g>
<g fill="#000" transform="translate(267,397) rotate(-90)"><use href="#g30" x="0"/><use href="#g36" x="5"/><use href="#g3a" x="10"/><use href="#g33" x="15"/><use href="#g36" x="20"/><text x="0" y="6" class="t">06:36</text></g>
<g fill="#000" transform="translate(282,397) rotate(-90)"><use href="#g30" x="0"/><use href="#g37" x="5"/><use href="#g3a" x="10"/><use href="#g30" x="15"/><use href="#g36" x="20"/><text x="0" y="6" class="t">07:06</text></g>
<g fill="#000" transform="translate(298,397) rotate(-90)"><use href="#g30" x="0"/><use href="#g37" x="5"/><use href="#g3a" x="10"/><use href="#g33" x="15"/><use href="#g36" x="20"/><text x="0" y="6" class="t">07:36</text></g>
<g fill="#000" transform="translate(313,397) rotate(-90)"><use href="#g30" x="0"/><use href="#g38" x="5"/><use href="#g3a" x="10"/><use href="#g30" x="15"/><use href="#g36" x="20"/><text x="0" y="6" class="t">08:06</text></g>
<g fill="#000" transform="translate(329,397) rotate(-90)"><use href="#g30" x="0"/><use href="#g38" x="5"/><use href="#g3a" x="10"/><use href="#g33" x="15"/><use href="#g36" x="20"/><text x="0" y="6" class="t">08:36</text></g>
<g fill="#000" transform="translate(344,397) rotate(-90)"><use href="#g30" x="0"/><use href="#g39" x="5"/><use href="#g3a" x="10"/><use href="#g30" x="15"/><use href="#g36" x="20"/><text x="0" y="6" class="t">09:06</text></g>
<g fill="#000" transform="translate(359,397) rotate(-90)"><use href="#g30" x="0"/><use href="#g39" x="5"/><use href="#g3a" x="10"/><use href="#g33" x="15"/><use href="#g36" x="20"/><text x="0" y="6" class="t">09:36</text></g>
<g fill="#000" transform="translate(375,397) rotate(-90)"><use href="#g31" x="0"/><use href="#g30" x="5"/><use href="#g3a" x="10"/><use href="#g30" x="15"/><use href="#g36" x="20"/><text x="0" y="6" class="t">10:06</text></g>
<g fill="#000" transform="translate(390,397) rotate(-90)"><use href="#g31" x="0"/><use href="#g30" x="5"/><use href="#g3a" x="10"/><use href="#g33" x="15"/><use href="#g36" x="20"/><text x="0" y="6" class="t">10:36</text></g>
<g fill="#000" transform="translate(406,397) rotate(-90)"><use href="#g31" x="0"/><use href="#g31" x="5"/><use href="#g3a" x="10"/><use href="#g30" x="15"/><use href="#g36" x="20"/><text x="0" y="6" class="t">11:06</text></g>
<g fill="#000" transform="translate(421,397) rotate(-90)"><use href="#g31" x="0"/><use href="#g31" x="5"/><use href="#g3a" x="10"/><use href="#g33" x="15"/><use href="#g36" x="20"/><text x="0" y="6" class="t">11:36</text></g>
<g fill="#000" transform="translate(437,397) rotate(-90)"><use href="#g31" x="0"/><use href="#g32" x="5"/><use href="#g3a" x="10"/><use href="#g30" x="15"/><use href="#g36" x="20"/><text x="0" y="6" class="t">12:06</text></g>
<g fill="#000" transform="translate(452,397) rotate(-90)"><use href="#g31" x="0"/><use href="#g32" x="5"/><use href="#g3a" x="10"/><use href="#g33" x="15"/><use href="#g36" x="20"/><text x="0" y="6" class="t">12:36</text></g>
<g fill="#000" transform="translate(467,397) rotate(-90)"><use href="#g31" x="0"/><use href="#g33" x="5"/><use href="#g3a" x="10"/><use href="#g30" x="15"/><use href="#g36" x="20"/><text x="0" y="6" class="t">13:06</text></g>
<g fill="#000" transform="translate(483,397) rotate(-90)"><use href="#g31" x="0"/><use href="#g33" x="5"/><use href="#g3a" x="10"/><use href="#g33" x="15"/><use href="#g36" x="20"/><text x="0" y="6" class="t">13:36</text></g>
<g fill="#000" transform="translate(498,397) rotate(-90)"><use href="#g31" x="0"/><use href="#g34" x="5"/><use href="#g3a" x="10"/><use href="#g30" x="15"/><use href="#g36" x="20"/><text x="0" y="6" class="t">14:06</text></g>
<g fill="#000" transform="translate(514,397) rotate(-90)"><use href="#g31" x="0"/><use href="#g34" x="5"/><use href="#g3a" x="10"/><use href="#g33" x="15"/><use href="#g36" x="20"/><text x="0" y="6" class="t">14:36</text></g>
<g fill="#000" transform="translate(529,397) rotate(-90)"><use href="#g31" x="0"/><use href="#g35" x="5"/><use href="#g3a" x="10"/><use href="#g30" x="15"/><use href="#g36" x="20"/><text x="0" y="6" class="t">15:06</text></g>
<g fill="#000" transform="translate(545,397) rotate(-90)"><use href="#g31" x="0"/><use href="#g35" x="5"/><use href="#g3a" x="10"/><use href="#g33" x="15"/><use href="#g36" x="20"/><text x="0" y="6" class="t">15:36</text></g>
<g fill="#000" transform="translate(560,397) rotate(-90)"><use href="#g31" x="0"/><use href="#g36" x="5"/><use href="#g3a" x="10"/><use href="#g30" x="15"/><use href="#g36" x="20"/><text x="0" y="6" class="t">16:06</text></g>
<g fill="#000" transform="translate(575,397) rotate(-90)"><use href="#g31" x="0"/><use href="#g36" x="5"/><use href="#g3a" x="10"/><use href="#g33" x="15"/><use href="#g36" x="20"/><text x="0" y="6" class="t">16:36</text></g>
<g fill="#000" transform="translate(591,397) rotate(-90)"><use href="#g31" x="0"/><use href="#g37" x="5"/><use href="#g3a" x="10"/><use href="#g30" x="15"/><use href="#g36" x="20"/><text x="0" y="6" class="t">17:06</text></g>
<g fill="#000" transform="translate(606,397) rotate(-90)"><use href="#g31" x="0"/><use href="#g37" x="5"/><use href="#g3a" x="10"/><use href="#g33" x="15"/><use href="#g36" x="20"/><text x="0" y="6" class="t">17:36</text></g>
<g fill="#000" transform="translate(622,397) rotate(-90)"><use href="#g31" x="0"/><use href="#g38" x="5"/><use href="#g3a" x="10"/><use href="#g30" x="15"/><use href="#g36" x="20"/><text x="0" y="6" class="t">18:06</text></g>
<g fill="#000" transform="translate(637,397) rotate(-90)"><use href="#g31" x="0"/><use href="#g38" x="5"/><use href="#g3a" x="10"/><use href="#g33" x="15"/><use href="#g36" x="20"/><text x="0" y="6" class="t">18:36</text></g>
<g fill="#000" transform="translate(652,397) rotate(-90)"><use href="#g31" x="0"/><use href="#g39" x="5"/><use href="#g3a" x="10"/><use href="#g30" x="15"/><use href="#g36" x="20"/><text x="0" y="6" class="t">19:06</text></g>
<g fill="#000" transform="translate(668,397) rotate(-90)"><use href="#g31" x="0"/><use href="#g39" x="5"/><use href="#g3a" x="10"/><use href="#g33" x="15"/><use href="#g36" x="20"/><text x="0" y="6" class="t">19:36</text></g>
<g fill="#000" transform="translate(683,397) rotate(-90)"><use href="#g32" x="0"/><use href="#g30" x="5"/><use href="#g3a" x="10"/><use href="#g30" x="15"/><use href="#g36" x="20"/><text x="0" y="6" class="t">20:06</text></g>
<g fill="#000" transform="translate(699,397) rotate(-90)"><use href="#g32" x="0"/><use href="#g30" x="5"/><use href="#g3a" x="10"/><use href="#g33" x="15"/><use href="#g36" x="20"/><text x="0" y="6" class="t">20:36</text></g>
<g fill="#000" transform="translate(714,397) rotate(-90)"><use href="#g32" x="0"/><use href="#g31" x="5"/><use href="#g3a" x="10"/><use href="#g30" x="15"/><use href="#g36" x="20"/><text x="0" y="6" class="t">21:06</text></g>
<g fill="#000" transform="translate(730,397) rotate(-90)"><use href="#g32" x="0"/><use href="#g31" x="5"/><use href="#g3a" x="10"/><use href="#g33" x="15"/><use href="#g36" x="20"/><text x="0" y="6" class="t">21:36</text></g>
<g fill="#000" transform="translate(745,397) rotate(-90)"><use href="#g32" x="0"/><use href="#g32" x="5"/><use href="#g3a" x="10"/><use href="#g30" x="15"/><use href="#g36" x="20"/><text x="0" y="6" class="t">22:06</text></g>
<g fill="#000" transform="translate(760,397) rotate(-90)"><use href="#g32" x="0"/><use href="#g32" x="5"/><use href="#g3a" x="10"/><use href="#g33" x="15"/><use href="#g36" x="20"/><text x="0" y="6" class="t">22:36</text></g>
<g fill="#000" transform="translate(776,397) rotate(-90)"><use href="#g32" x="0"/><use href="#g33" x="5"/><use href="#g3a" x="10"/><use href="#g30" x="15"/><use href="#g36" x="20"/><text x="0" y="6" class="t">23:06</text></g>
<g fill="#000" transform="translate(791,397) rotate(-90)"><use href="#g32" x="0"/><use href="#g33" x="5"/><use href="#g3a" x="10"/><use href="#g33" x="15"/><use href="#g36" x="20"/><text x="0" y="6" class="t">23:36</text></g>
<g fill="#000000" transform="translate(25,6)"><use href="#g54" x="0"/><use href="#g65" x="5"/><use href="#g70" x="10"/><use href="#g6c" x="15"/><use href="#g6f" x="20"/><use href="#g74" x="25"/><use href="#g61" x="30"/><text x="0" y="6" class="t">Teplota</text></g>
<g fill="#000000" transform="translate(85,6)"><use href="#g50" x="0"/><use href="#g159" x="5"/><use href="#ged" x="10"/><use href="#g7a" x="15"/><use href="#g65" x="20"/><use href="#g6d" x="25"/><use href="#g6e" x="30"/><use href="#ged" x="35"/><use href="#g74" x="45"/><use href="#g65" x="50"/><use href="#g70" x="55"/><use href="#g6c" x="60"/><use href="#g6f" x="65"/><use href="#g74" x="70"/><use href="#g61" x="75"/><text x="0" y="6" class="t">Přízemní teplota</text></g>
<g fill="#000000" transform="translate(190,6)"><use href="#g56" x="0"/><use href="#g6c" x="5"/><use href="#g68" x="10"/><use href="#g6b" x="15"/><use href="#g6f" x="20"/><use href="#g73" x="25"/><use href="#g74" x="30"/><text x="0" y="6" class="t">Vlhkost</text></g>
<g fill="#000000" transform="translate(250,6)"><use href="#g54" x="0"/><use href="#g6c" x="5"/><use href="#g61" x="10"/><use href="#g6b" x="15"/><text x="0" y="6" class="t">Tlak</text></g>
<g fill="#000000" transform="translate(295,6)"><use href="#g53" x="0"/><use href="#g72" x="5"/><use href="#ge1" x="10"/><use href="#g17e" x="15"/><use href="#g6b" x="20"/><use href="#g79" x="25"/><text x="0" y="6" class="t">Srážky</text></g>
<g fill="#000000" transform="translate(350,6)"><use href="#g52" x="0"/><use href="#g79" x="5"/><use href="#g63" x="10"/><use href="#g68" x="15"/><use href="#g6c" x="20"/><use href="#g6f" x="25"/><use href="#g73" x="30"/><use href="#g74" x="35"/><use href="#g76" x="45"/><use href="#g11b" x="50"/><use href="#g74" x="55"/><use href="#g72" x="60"/><use href="#g75" x="65"/><text x="0" y="6" class="t">Rychlost větru</text></g>
<g fill="#000000" transform="translate(445,6)"><use href="#g4e" x="0"/><use href="#ge1" x="5"/><use href="#g72" x="10"/><use href="#g61" x="15"/><use href="#g7a" x="20"/><use href="#g76" x="30"/><use href="#g11b" x="35"/><use href="#g74" x="40"/><use href="#g72" x="45"/><use href="#g75" x="50"/><text x="0" y="6" class="t">Náraz větru</text></g>
<g fill="#000000" transform="translate(525,6)"><use href="#g53" x="0"/><use href="#g6d" x="5"/><use href="#g11b" x="10"/><use href="#g72" x="15"/><use href="#g76" x="25"/><use href="#g11b" x="30"/><use href="#g74" x="35"/><use href="#g72" x="40"/><use href="#g75" x="45"/><text x="0" y="6" class="t">Směr větru</text></g>
<g fill="#ffff00" transform="translate(600,6)"><use href="#g55" x="0"/><use href="#g56" x="5"/><use href="#g69" x="15"/><use href="#g6e" x="20"/><use href="#g64" x="25"/><use href="#g65" x="30"/><use href="#g78" x="35"/><text x="0" y="6" class="t">UV index</text></g>
<g fill="#ff8000" transform="translate(665,6)"><use href="#g53" x="0"/><use href="#g6f" x="5"/><use href="#g6c" x="10"/><use href="#g61" x="15"/><use href="#g72" x="20"/><text x="0" y="6" class="t">Solar</text></g>
<g fill="#000000" transform="translate(80,21)"><use href="#g6d" x="0"/><use href="#g61" x="5"/><use href="#g78" x="10"/><text x="0" y="6" class="t">max</text></g>
<g fill="#ff0000" transform="translate(100,21)"><use href="#g33" x="0"/><use href="#g30" x="5"/><use href="#g2e" x="10"/><use href="#g39" x="15"/><use href="#gb0" x="20"/><use href="#g43" x="25"/><text x="0" y="6" class="t">30.9°C</text></g>
<g fill="#ff0000" transform="translate(140,21)"><use href="#g39" x="0"/><use href="#g33" x="5"/><use href="#g25" x="10"/><text x="0" y="6" class="t">93%</text></g>
<g fill="#ff0000" transform="translate(165,21)"><use href="#g31" x="0"/><use href="#g30" x="5"/><use href="#g31" x="10"/><use href="#g33" x="15"/><use href="#g2e" x="20"/><use href="#g32" x="25"/><use href="#g68" x="30"/><use href="#g50" x="35"/><use href="#g61" x="40"/><text x="0" y="6" class="t">1013.2hPa</text></g>
<g fill="#00c0ff" transform="translate(225,21)"><use href="#g30" x="0"/><use href="#g2e" x="5"/><use href="#g30" x="10"/><use href="#g6d" x="15"/><use href="#g6d" x="20"/><text x="0" y="6" class="t">0.0mm</text></g>
<g fill="#000000" transform="translate(80,31)"><use href="#g6d" x="0"/><use href="#g69" x="5"/><use href="#g6e" x="10"/><text x="0" y="6" class="t">min</text></g>
<g fill="#0000ee" transform="translate(100,31)"><use href="#g31" x="0"/><use href="#g35" x="5"/><use href="#g2e" x="10"/><use href="#g39" x="15"/><use href="#gb0" x="20"/><use href="#g43" x="25"/><text x="0" y="6" class="t">15.9°C</text></g>
<g fill="#0000ee" transform="translate(140,31)"><use href="#g35" x="0"/><use href="#g30" x="5"/><use href="#g25" x="10"/><text x="0" y="6" class="t">50%</text></g>
<g fill="#0000ee" transform="translate(165,31)"><use href="#g31" x="0"/><use href="#g30" x="5"/><use href="#g30" x="10"/><use href="#g39" x="15"/><use href="#g2e" x="20"/><use href="#g37" x="25"/><use href="#g68" x="30"/><use href="#g50" x="35"/><use href="#g61" x="40"/><text x="0" y="6" class="t">1009.7hPa</text></g>
<g fill="#000000" transform="translate(80,41)"><use href="#g61" x="0"/><use href="#g76" x="5"/><use href="#g67" x="10"/><text x="0" y="6" class="t">avg</text></g>
<g fill="#000000" transform="translate(100,41)"><use href="#g32" x="0"/><use href="#g32" x="5"/><use href="#g2e" x="10"/><use href="#g34" x="15"/><use href="#gb0" x="20"/><use href="#g43" x="25"/><text x="0" y="6" class="t">22.4°C</text></g>
<g fill="#000000" transform="translate(495,21)"><use href="#g57" x="0"/><use href="#g53" x="5"/><use href="#g3a" x="10"/><use href="#g33" x="15"/><use href="#g2e" x="20"/><use href="#g36" x="25"/><use href="#g6d" x="30"/><use href="#g2f" x="35"/><use href="#g73" x="40"/><text x="0" y="6" class="t">WS:3.6m/s</text></g>
<g fill="#000000" transform="translate(565,21)"><use href="#g57" x="0"/><use href="#g47" x="5"/><use href="#g3a" x="10"/><use href="#g37" x="15"/><use href="#g2e" x="20"/><use href="#g36" x="25"/><use href="#g6d" x="30"/><use href="#g2f" x="35"/><use href="#g73" x="40"/><text x="0" y="6" class="t">WG:7.6m/s</text></g>
<g fill="#000000" transform="translate(495,31)"><use href="#g56" x="0"/><use href="#gfd" x="5"/><use href="#g63" x="10"/><use href="#g68" x="15"/><use href="#g6f" x="20"/><use href="#g64" x="25"/><use href="#g3a" x="30"/><use href="#g30" x="35"/><use href="#g35" x="40"/><use href="#g3a" x="45"/><use href="#g33" x="50"/><use href="#g37" x="55"/><text x="0" y="6" class="t">Východ:05:37</text></g>
<g fill="#000000" transform="translate(565,31)"><use href="#g5a" x="0"/><use href="#ge1" x="5"/><use href="#g70" x="10"/><use href="#g61" x="15"/><use href="#g64" x="20"/><use href="#g3a" x="25"/><use href="#g32" x="30"/><use href="#g30" x="35"/><use href="#g3a" x="40"/><use href="#g32" x="45"/><use href="#g30" x="50"/><text x="0" y="6" class="t">Západ:20:20</text></g>
<g fill="#000" transform="translate(418,43)"><path transform="translate(0,0)" d="M1 0h4v1h-4zM0 1h2v1h-2zM4 1h2v1h-2zM0 2h2v1h-2zM4 2h2v1h-2zM0 3h2v1h-2zM4 3h2v1h-2zM1 4h5v1h-5zM4 5h2v1h-2zM0 6h2v1h-2zM4 6h2v1h-2zM1 7h4v1h-4z"/><path transform="translate(7,0)" d="M2 6h2v1h-2zM1 7h4v1h-4zM2 8h2v1h-2z"/><path transform="translate(14,0)" d="M1 0h4v1h-4zM0 1h2v1h-2zM4 1h2v1h-2zM0 2h2v1h-2zM4 2h2v1h-2zM0 3h2v1h-2zM3 3h3v1h-3zM0 4h3v1h-3zM4 4h2v1h-2zM0 5h2v1h-2zM4 5h2v1h-2zM0 6h2v1h-2zM4 6h2v1h-2zM1 7h4v1h-4z"/><path transform="translate(21,0)" d="M1 0h4v1h-4zM0 1h2v1h-2zM4 1h2v1h-2zM0 2h2v1h-2zM4 2h2v1h-2zM1 3h4v1h-4zM0 4h2v1h-2zM4 4h2v1h-2zM0 5h2v1h-2zM4 5h2v1h-2zM0 6h2v1h-2zM4 6h2v1h-2zM1 7h4v1h-4z"/><path transform="translate(28,0)" d="M2 6h2v1h-2zM1 7h4v1h-4zM2 8h2v1h-2z"/><path transform="translate(35,0)" d="M1 0h4v1h-4zM0 1h2v1h-2zM4 1h2v1h-2zM4 2h2v1h-2zM3 3h2v1h-2zM2 4h2v1h-2zM1 5h2v1h-2zM0 6h2v1h-2zM0 7h6v1h-6z"/><path transform="translate(42,0)" d="M1 0h4v1h-4zM0 1h2v1h-2zM4 1h2v1h-2zM0 2h2v1h-2zM4 2h2v1h-2zM0 3h2v1h-2zM3 3h3v1h-3zM0 4h3v1h-3zM4 4h2v1h-2zM0 5h2v1h-2zM4 5h2v1h-2zM0 6h2v1h-2zM4 6h2v1h-2zM1 7h4v1h-4z"/><path transform="translate(49,0)" d="M2 0h2v1h-2zM1 1h3v1h-3zM0 2h4v1h-4zM2 3h2v1h-2zM2 4h2v1h-2zM2 5h2v1h-2zM2 6h2v1h-2zM0 7h6v1h-6z"/><path transform="translate(56,0)" d="M3 0h2v1h-2zM2 1h3v1h-3zM1 2h4v1h-4zM0 3h2v1h-2zM3 3h2v1h-2zM0 4h6v1h-6zM3 5h2v1h-2zM3 6h2v1h-2zM2 7h4v1h-4z"/><text x="0" y="8" class="t">9.08.2014</text></g>
</g>
</svg></body></html>
